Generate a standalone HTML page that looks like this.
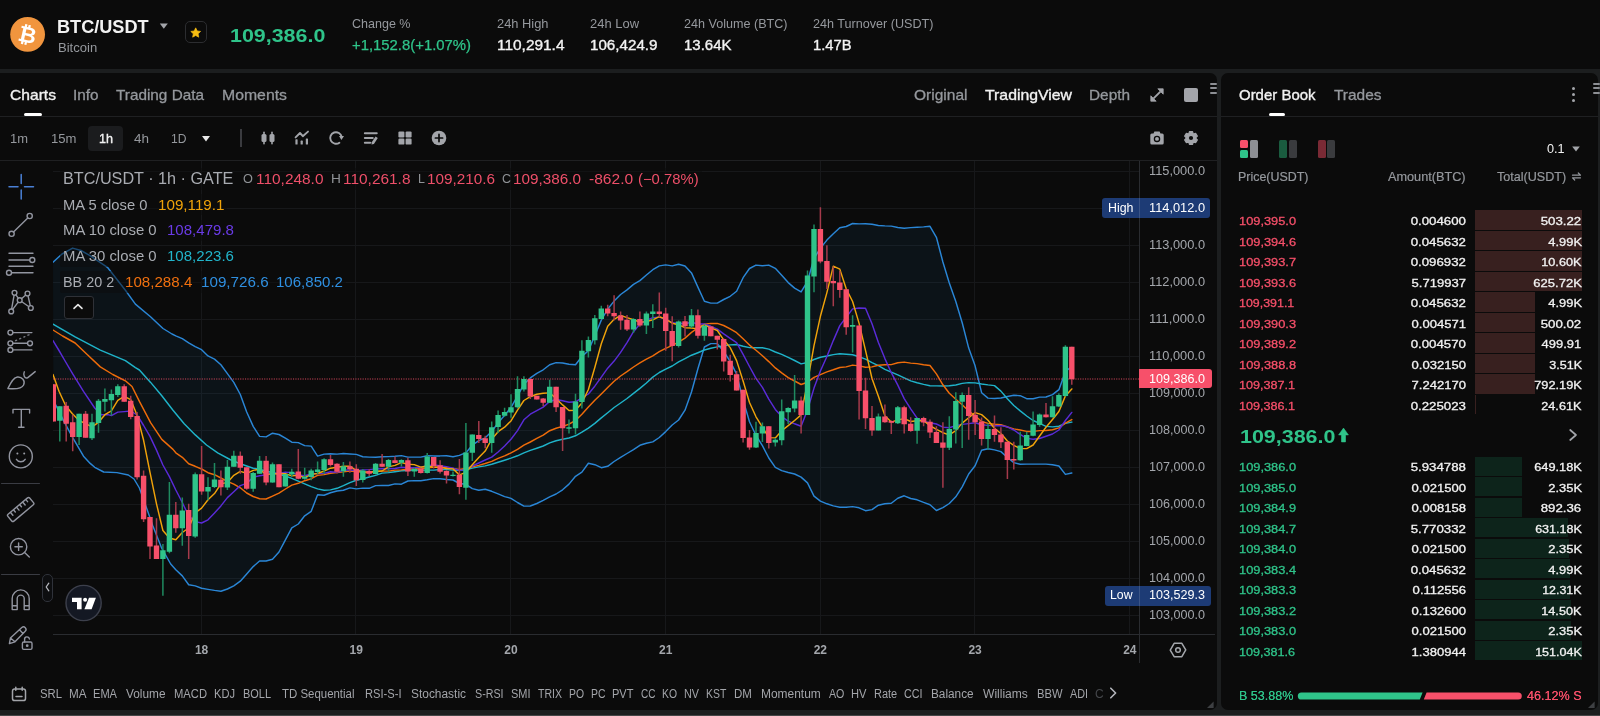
<!DOCTYPE html>
<html><head><meta charset="utf-8"><title>BTC/USDT</title>
<style>
html,body{margin:0;padding:0;background:#1c1e1f;}
body{width:1600px;height:716px;overflow:hidden;font-family:"Liberation Sans",sans-serif;}
#root{will-change:transform;position:relative;width:1600px;height:716px;overflow:hidden;background:#1c1e1f;}
.abs{position:absolute;}
.t{position:absolute;white-space:nowrap;}
.panel{position:absolute;background:#0b0b0b;}
</style></head><body><div id="root">

<div class="panel" style="left:0;top:0;width:1600px;height:69px"></div>
<div class="panel" style="left:0;top:73px;width:1217px;height:637px;border-radius:0 7px 7px 0"></div>
<div class="panel" style="left:1221px;top:73px;width:377px;height:637px;border-radius:7px"></div>
<div class="abs" style="left:0;top:715px;width:1600px;height:1px;background:#454647"></div>
<svg class="abs" style="left:0;top:0" width="1600" height="716" viewBox="0 0 1600 716">
<defs><clipPath id="cc"><rect x="53" y="161" width="1087" height="473"/></clipPath></defs>
<path d="M53 171.5H1140 M53 208.5H1140 M53 245.5H1140 M53 282.5H1140 M53 319.5H1140 M53 356.5H1140 M53 393.5H1140 M53 430.5H1140 M53 467.5H1140 M53 504.5H1140 M53 541.5H1140 M53 578.5H1140 M53 615.5H1140 M201.5 161V634 M355.5 161V634 M510.5 161V634 M665.5 161V634 M820.5 161V634 M974.5 161V634 M1129.5 161V634" stroke="#17181a" stroke-width="1" fill="none"/>
<g clip-path="url(#cc)">
<path d="M53.0 262.2 L62.0 254.0 L72.6 248.1 L81.0 250.5 L90.0 255.6 L107.8 267.7 L125.4 290.3 L135.4 304.1 L150.5 316.7 L163.0 328.5 L172.0 334.0 L175.8 335.9 L182.3 338.7 L188.7 342.8 L195.2 346.7 L201.6 349.7 L208.0 355.9 L214.5 359.1 L220.9 364.8 L227.4 373.6 L233.8 382.4 L240.3 394.5 L246.7 412.0 L253.2 426.4 L259.6 436.4 L266.1 436.9 L272.5 433.2 L279.0 434.5 L285.4 438.1 L291.8 442.2 L298.3 442.6 L304.7 445.6 L311.2 446.1 L317.6 456.1 L324.1 454.1 L330.5 453.8 L337.0 454.1 L343.4 453.5 L349.9 454.0 L356.3 454.4 L362.8 456.7 L369.2 457.1 L375.6 457.3 L382.1 456.8 L388.5 456.6 L395.0 456.3 L401.4 455.6 L407.9 457.1 L414.3 457.1 L420.8 457.1 L427.2 455.7 L433.7 455.9 L440.1 455.9 L446.5 455.7 L453.0 456.7 L459.4 455.4 L465.9 452.7 L472.3 445.2 L478.8 440.6 L485.2 437.8 L491.7 431.5 L498.1 422.9 L504.6 415.2 L511.0 407.4 L517.5 396.2 L523.9 384.2 L530.3 377.9 L536.8 373.3 L543.2 369.8 L549.7 364.7 L556.1 362.6 L562.6 363.0 L569.0 364.3 L575.5 364.7 L581.9 356.5 L588.4 350.6 L594.8 335.8 L601.3 320.1 L607.7 309.0 L614.1 301.1 L620.6 294.5 L627.0 289.9 L633.5 284.4 L639.9 280.6 L646.4 275.0 L652.8 269.7 L659.3 265.9 L665.7 264.9 L672.2 265.9 L678.6 264.3 L685.0 266.0 L691.5 272.9 L697.9 287.1 L704.4 301.2 L710.8 303.1 L717.3 303.1 L723.7 299.5 L730.2 296.3 L736.6 291.3 L743.1 277.7 L749.5 268.5 L756.0 265.1 L762.4 265.7 L768.8 265.1 L775.3 268.3 L781.7 275.2 L788.2 282.6 L794.6 288.1 L801.1 291.9 L807.5 281.5 L814.0 258.5 L820.4 248.2 L826.9 240.1 L833.3 233.8 L839.8 227.7 L846.2 226.5 L852.6 223.5 L859.1 223.9 L865.5 223.8 L872.0 224.2 L878.4 225.5 L884.9 225.9 L891.3 226.1 L897.8 227.5 L904.2 228.3 L910.7 227.6 L917.1 227.3 L923.6 226.9 L930.0 226.3 L936.4 237.3 L942.9 262.0 L949.3 283.0 L955.8 301.5 L962.2 322.7 L968.7 348.1 L975.1 365.8 L981.6 392.7 L988.0 398.1 L994.5 398.5 L1000.9 398.0 L1007.4 396.5 L1013.8 395.2 L1020.2 395.7 L1026.7 398.7 L1033.1 398.7 L1039.6 397.1 L1046.0 397.0 L1052.5 394.6 L1058.9 389.7 L1065.4 371.7 L1071.8 366.3 L1071.8 473.0 L1065.4 474.4 L1058.9 466.0 L1052.5 464.8 L1046.0 464.1 L1039.6 464.1 L1033.1 464.1 L1026.7 464.1 L1020.2 464.3 L1013.8 462.6 L1007.4 457.5 L1000.9 451.6 L994.5 449.9 L988.0 448.7 L981.6 450.3 L975.1 465.8 L968.7 474.0 L962.2 486.8 L955.8 496.8 L949.3 503.5 L942.9 507.6 L936.4 510.5 L930.0 504.7 L923.6 502.4 L917.1 499.8 L910.7 498.5 L904.2 495.8 L897.8 498.2 L891.3 503.2 L884.9 503.7 L878.4 505.2 L872.0 509.6 L865.5 510.7 L859.1 507.8 L852.6 506.6 L846.2 507.3 L839.8 507.3 L833.3 505.9 L826.9 503.8 L820.4 501.1 L814.0 496.1 L807.5 482.9 L801.1 477.1 L794.6 474.0 L788.2 472.5 L781.7 470.6 L775.3 467.4 L768.8 458.0 L762.4 445.7 L756.0 435.5 L749.5 421.7 L743.1 399.9 L736.6 374.1 L730.2 361.4 L723.7 351.5 L717.3 343.6 L710.8 343.6 L704.4 347.0 L697.9 368.7 L691.5 392.0 L685.0 410.2 L678.6 420.0 L672.2 425.0 L665.7 431.6 L659.3 437.5 L652.8 441.9 L646.4 443.3 L639.9 445.3 L633.5 449.7 L627.0 453.5 L620.6 457.4 L614.1 461.5 L607.7 466.3 L601.3 467.7 L594.8 464.7 L588.4 463.3 L581.9 472.1 L575.5 476.3 L569.0 484.1 L562.6 489.8 L556.1 494.0 L549.7 496.8 L543.2 500.3 L536.8 503.5 L530.3 506.0 L523.9 506.1 L517.5 502.5 L511.0 498.4 L504.6 496.6 L498.1 493.9 L491.7 491.3 L485.2 489.2 L478.8 490.3 L472.3 488.6 L465.9 484.3 L459.4 483.5 L453.0 480.0 L446.5 479.5 L440.1 478.7 L433.7 478.6 L427.2 479.8 L420.8 480.7 L414.3 480.6 L407.9 481.0 L401.4 484.2 L395.0 483.9 L388.5 485.5 L382.1 485.4 L375.6 485.6 L369.2 488.3 L362.8 488.1 L356.3 488.9 L349.9 487.9 L343.4 490.2 L337.0 491.0 L330.5 492.8 L324.1 495.2 L317.6 494.7 L311.2 511.3 L304.7 515.8 L298.3 524.0 L291.8 527.9 L285.4 539.9 L279.0 552.0 L272.5 559.3 L266.1 561.0 L259.6 561.0 L253.2 566.6 L246.7 573.9 L240.3 581.2 L233.8 585.8 L227.4 589.0 L220.9 591.2 L214.5 590.4 L208.0 589.4 L201.6 588.3 L195.2 585.9 L188.7 584.7 L182.3 575.9 L175.8 569.8 L170.7 564.0 L161.8 548.4 L152.9 526.0 L146.2 507.0 L139.4 488.0 L134.0 479.0 L128.3 475.0 L117.0 472.6 L103.7 472.0 L94.7 467.3 L90.2 463.4 L83.5 456.2 L72.4 437.1 L63.4 420.4 L53.4 400.3Z" fill="#2196f3" fill-opacity="0.06" stroke="none"/>
<path d="M53.0 262.2 L62.0 254.0 L72.6 248.1 L81.0 250.5 L90.0 255.6 L107.8 267.7 L125.4 290.3 L135.4 304.1 L150.5 316.7 L163.0 328.5 L172.0 334.0 L175.8 335.9 L182.3 338.7 L188.7 342.8 L195.2 346.7 L201.6 349.7 L208.0 355.9 L214.5 359.1 L220.9 364.8 L227.4 373.6 L233.8 382.4 L240.3 394.5 L246.7 412.0 L253.2 426.4 L259.6 436.4 L266.1 436.9 L272.5 433.2 L279.0 434.5 L285.4 438.1 L291.8 442.2 L298.3 442.6 L304.7 445.6 L311.2 446.1 L317.6 456.1 L324.1 454.1 L330.5 453.8 L337.0 454.1 L343.4 453.5 L349.9 454.0 L356.3 454.4 L362.8 456.7 L369.2 457.1 L375.6 457.3 L382.1 456.8 L388.5 456.6 L395.0 456.3 L401.4 455.6 L407.9 457.1 L414.3 457.1 L420.8 457.1 L427.2 455.7 L433.7 455.9 L440.1 455.9 L446.5 455.7 L453.0 456.7 L459.4 455.4 L465.9 452.7 L472.3 445.2 L478.8 440.6 L485.2 437.8 L491.7 431.5 L498.1 422.9 L504.6 415.2 L511.0 407.4 L517.5 396.2 L523.9 384.2 L530.3 377.9 L536.8 373.3 L543.2 369.8 L549.7 364.7 L556.1 362.6 L562.6 363.0 L569.0 364.3 L575.5 364.7 L581.9 356.5 L588.4 350.6 L594.8 335.8 L601.3 320.1 L607.7 309.0 L614.1 301.1 L620.6 294.5 L627.0 289.9 L633.5 284.4 L639.9 280.6 L646.4 275.0 L652.8 269.7 L659.3 265.9 L665.7 264.9 L672.2 265.9 L678.6 264.3 L685.0 266.0 L691.5 272.9 L697.9 287.1 L704.4 301.2 L710.8 303.1 L717.3 303.1 L723.7 299.5 L730.2 296.3 L736.6 291.3 L743.1 277.7 L749.5 268.5 L756.0 265.1 L762.4 265.7 L768.8 265.1 L775.3 268.3 L781.7 275.2 L788.2 282.6 L794.6 288.1 L801.1 291.9 L807.5 281.5 L814.0 258.5 L820.4 248.2 L826.9 240.1 L833.3 233.8 L839.8 227.7 L846.2 226.5 L852.6 223.5 L859.1 223.9 L865.5 223.8 L872.0 224.2 L878.4 225.5 L884.9 225.9 L891.3 226.1 L897.8 227.5 L904.2 228.3 L910.7 227.6 L917.1 227.3 L923.6 226.9 L930.0 226.3 L936.4 237.3 L942.9 262.0 L949.3 283.0 L955.8 301.5 L962.2 322.7 L968.7 348.1 L975.1 365.8 L981.6 392.7 L988.0 398.1 L994.5 398.5 L1000.9 398.0 L1007.4 396.5 L1013.8 395.2 L1020.2 395.7 L1026.7 398.7 L1033.1 398.7 L1039.6 397.1 L1046.0 397.0 L1052.5 394.6 L1058.9 389.7 L1065.4 371.7 L1071.8 366.3" fill="none" stroke="#2a86d6" stroke-width="1.45" stroke-linejoin="round" stroke-linecap="round"/>
<path d="M53.4 400.3 L63.4 420.4 L72.4 437.1 L83.5 456.2 L90.2 463.4 L94.7 467.3 L103.7 472.0 L117.0 472.6 L128.3 475.0 L134.0 479.0 L139.4 488.0 L146.2 507.0 L152.9 526.0 L161.8 548.4 L170.7 564.0 L175.8 569.8 L182.3 575.9 L188.7 584.7 L195.2 585.9 L201.6 588.3 L208.0 589.4 L214.5 590.4 L220.9 591.2 L227.4 589.0 L233.8 585.8 L240.3 581.2 L246.7 573.9 L253.2 566.6 L259.6 561.0 L266.1 561.0 L272.5 559.3 L279.0 552.0 L285.4 539.9 L291.8 527.9 L298.3 524.0 L304.7 515.8 L311.2 511.3 L317.6 494.7 L324.1 495.2 L330.5 492.8 L337.0 491.0 L343.4 490.2 L349.9 487.9 L356.3 488.9 L362.8 488.1 L369.2 488.3 L375.6 485.6 L382.1 485.4 L388.5 485.5 L395.0 483.9 L401.4 484.2 L407.9 481.0 L414.3 480.6 L420.8 480.7 L427.2 479.8 L433.7 478.6 L440.1 478.7 L446.5 479.5 L453.0 480.0 L459.4 483.5 L465.9 484.3 L472.3 488.6 L478.8 490.3 L485.2 489.2 L491.7 491.3 L498.1 493.9 L504.6 496.6 L511.0 498.4 L517.5 502.5 L523.9 506.1 L530.3 506.0 L536.8 503.5 L543.2 500.3 L549.7 496.8 L556.1 494.0 L562.6 489.8 L569.0 484.1 L575.5 476.3 L581.9 472.1 L588.4 463.3 L594.8 464.7 L601.3 467.7 L607.7 466.3 L614.1 461.5 L620.6 457.4 L627.0 453.5 L633.5 449.7 L639.9 445.3 L646.4 443.3 L652.8 441.9 L659.3 437.5 L665.7 431.6 L672.2 425.0 L678.6 420.0 L685.0 410.2 L691.5 392.0 L697.9 368.7 L704.4 347.0 L710.8 343.6 L717.3 343.6 L723.7 351.5 L730.2 361.4 L736.6 374.1 L743.1 399.9 L749.5 421.7 L756.0 435.5 L762.4 445.7 L768.8 458.0 L775.3 467.4 L781.7 470.6 L788.2 472.5 L794.6 474.0 L801.1 477.1 L807.5 482.9 L814.0 496.1 L820.4 501.1 L826.9 503.8 L833.3 505.9 L839.8 507.3 L846.2 507.3 L852.6 506.6 L859.1 507.8 L865.5 510.7 L872.0 509.6 L878.4 505.2 L884.9 503.7 L891.3 503.2 L897.8 498.2 L904.2 495.8 L910.7 498.5 L917.1 499.8 L923.6 502.4 L930.0 504.7 L936.4 510.5 L942.9 507.6 L949.3 503.5 L955.8 496.8 L962.2 486.8 L968.7 474.0 L975.1 465.8 L981.6 450.3 L988.0 448.7 L994.5 449.9 L1000.9 451.6 L1007.4 457.5 L1013.8 462.6 L1020.2 464.3 L1026.7 464.1 L1033.1 464.1 L1039.6 464.1 L1046.0 464.1 L1052.5 464.8 L1058.9 466.0 L1065.4 474.4 L1071.8 473.0" fill="none" stroke="#2a86d6" stroke-width="1.45" stroke-linejoin="round" stroke-linecap="round"/>
<path d="M53.0 324.2 L75.1 336.8 L100.3 350.1 L125.4 360.7 L135.4 367.7 L139.4 370.0 L150.6 382.4 L161.8 395.8 L173.0 410.3 L184.2 423.7 L195.3 434.9 L206.5 445.0 L217.7 452.8 L230.0 459.5 L236.0 462.0 L240.3 463.8 L246.7 466.0 L253.2 468.2 L259.6 469.5 L266.1 471.0 L272.5 472.7 L279.0 474.3 L285.4 476.0 L291.8 478.4 L298.3 481.1 L304.7 483.8 L311.2 486.6 L317.6 488.9 L324.1 490.3 L330.5 489.9 L337.0 488.3 L343.4 485.6 L349.9 482.6 L356.3 480.3 L362.8 478.8 L369.2 477.0 L375.6 475.4 L382.1 473.1 L388.5 472.6 L395.0 471.7 L401.4 470.8 L407.9 470.5 L414.3 469.9 L420.8 470.1 L427.2 470.1 L433.7 470.1 L440.1 469.5 L446.5 469.6 L453.0 470.1 L459.4 470.2 L465.9 469.8 L472.3 468.1 L478.8 466.9 L485.2 465.9 L491.7 464.2 L498.1 462.2 L504.6 460.2 L511.0 458.1 L517.5 455.8 L523.9 452.9 L530.3 450.4 L536.8 448.2 L543.2 446.0 L549.7 442.9 L556.1 440.7 L562.6 439.2 L569.0 438.0 L575.5 435.8 L581.9 432.2 L588.4 428.1 L594.8 423.4 L601.3 417.9 L607.7 412.8 L614.1 407.5 L620.6 403.0 L627.0 398.5 L633.5 393.4 L639.9 388.4 L646.4 383.0 L652.8 377.1 L659.3 372.5 L665.7 369.1 L672.2 366.0 L678.6 361.9 L685.0 358.6 L691.5 355.2 L697.9 352.7 L704.4 350.0 L710.8 348.2 L717.3 346.9 L723.7 345.7 L730.2 344.9 L736.6 344.5 L743.1 346.2 L749.5 347.6 L756.0 347.7 L762.4 347.7 L768.8 349.1 L775.3 352.0 L781.7 354.4 L788.2 357.4 L794.6 360.5 L801.1 363.9 L807.5 362.5 L814.0 359.5 L820.4 357.2 L826.9 356.0 L833.3 354.6 L839.8 353.8 L846.2 354.3 L852.6 354.7 L859.1 356.7 L865.5 359.1 L872.0 362.7 L878.4 365.7 L884.9 369.3 L891.3 372.2 L897.8 374.9 L904.2 377.9 L910.7 380.9 L917.1 382.8 L923.6 384.4 L930.0 385.8 L936.4 385.9 L942.9 385.9 L949.3 385.8 L955.8 385.0 L962.2 383.4 L968.7 382.6 L975.1 382.9 L981.6 384.0 L988.0 384.9 L994.5 385.6 L1000.9 391.1 L1007.4 398.8 L1013.8 405.5 L1020.2 410.9 L1026.7 416.0 L1033.1 420.5 L1039.6 423.4 L1046.0 426.4 L1052.5 426.9 L1058.9 426.2 L1065.4 423.4 L1071.8 422.1" fill="none" stroke="#1fb3c9" stroke-width="1.45" stroke-linejoin="round" stroke-linecap="round"/>
<path d="M53.0 330.0 L62.6 336.0 L75.1 343.0 L87.7 355.1 L100.3 366.9 L112.8 374.5 L125.4 380.8 L132.0 386.5 L139.4 401.4 L150.6 422.6 L161.8 439.4 L173.0 449.4 L175.8 452.8 L182.3 457.3 L188.7 463.8 L195.2 466.3 L201.6 469.0 L208.0 472.7 L214.5 474.7 L220.9 478.0 L227.4 481.3 L233.8 484.1 L240.3 487.8 L246.7 493.0 L253.2 496.5 L259.6 498.7 L266.1 499.0 L272.5 496.2 L279.0 493.2 L285.4 489.0 L291.8 485.1 L298.3 483.3 L304.7 480.7 L311.2 478.7 L317.6 475.4 L324.1 474.6 L330.5 473.3 L337.0 472.5 L343.4 471.9 L349.9 471.0 L356.3 471.6 L362.8 472.4 L369.2 472.7 L375.6 471.4 L382.1 471.1 L388.5 471.1 L395.0 470.1 L401.4 469.9 L407.9 469.1 L414.3 468.8 L420.8 468.9 L427.2 467.8 L433.7 467.2 L440.1 467.3 L446.5 467.6 L453.0 468.4 L459.4 469.5 L465.9 468.5 L472.3 466.9 L478.8 465.4 L485.2 463.5 L491.7 461.4 L498.1 458.4 L504.6 455.9 L511.0 452.9 L517.5 449.3 L523.9 445.1 L530.3 442.0 L536.8 438.4 L543.2 435.1 L549.7 430.7 L556.1 428.3 L562.6 426.4 L569.0 424.2 L575.5 420.5 L581.9 414.3 L588.4 406.9 L594.8 400.2 L601.3 393.9 L607.7 387.6 L614.1 381.3 L620.6 376.0 L627.0 371.7 L633.5 367.0 L639.9 362.9 L646.4 359.2 L652.8 355.8 L659.3 351.7 L665.7 348.3 L672.2 345.4 L678.6 342.2 L685.0 338.1 L691.5 332.4 L697.9 327.9 L704.4 324.1 L710.8 323.4 L717.3 323.4 L723.7 325.5 L730.2 328.8 L736.6 332.7 L743.1 338.8 L749.5 345.1 L756.0 350.3 L762.4 355.7 L768.8 361.6 L775.3 367.9 L781.7 372.9 L788.2 377.6 L794.6 381.0 L801.1 384.5 L807.5 382.2 L814.0 377.3 L820.4 374.6 L826.9 371.9 L833.3 369.8 L839.8 367.5 L846.2 366.9 L852.6 365.1 L859.1 365.9 L865.5 367.3 L872.0 366.9 L878.4 365.3 L884.9 364.8 L891.3 364.6 L897.8 362.8 L904.2 362.1 L910.7 363.1 L917.1 363.6 L923.6 364.7 L930.0 365.5 L936.4 373.9 L942.9 384.8 L949.3 393.2 L955.8 399.2 L962.2 404.8 L968.7 411.1 L975.1 415.8 L981.6 421.5 L988.0 423.4 L994.5 424.2 L1000.9 424.8 L1007.4 427.0 L1013.8 428.9 L1020.2 430.0 L1026.7 431.4 L1033.1 431.4 L1039.6 430.6 L1046.0 430.5 L1052.5 429.7 L1058.9 427.9 L1065.4 423.1 L1071.8 419.6" fill="none" stroke="#ef6c0a" stroke-width="1.45" stroke-linejoin="round" stroke-linecap="round"/>
<path d="M53.0 340.6 L59.0 350.5 L64.5 360.0 L72.4 373.4 L83.5 391.3 L94.7 408.0 L101.4 414.8 L108.0 414.6 L111.4 415.6 L117.8 412.1 L124.2 411.6 L130.7 411.0 L137.1 415.0 L143.6 425.5 L150.0 436.4 L156.5 450.1 L162.9 465.0 L169.4 476.6 L175.8 490.0 L182.3 502.5 L188.7 515.9 L195.2 521.6 L201.6 523.0 L208.0 519.8 L214.5 513.1 L220.9 505.9 L227.4 497.6 L233.8 491.7 L240.3 485.6 L246.7 483.4 L253.2 477.1 L259.6 475.8 L266.1 474.9 L272.5 472.6 L279.0 473.4 L285.4 472.1 L291.8 472.6 L298.3 474.9 L304.7 475.8 L311.2 473.9 L317.6 473.6 L324.1 473.4 L330.5 471.7 L337.0 472.4 L343.4 470.3 L349.9 469.9 L356.3 470.7 L362.8 469.9 L369.2 469.6 L375.6 468.9 L382.1 468.6 L388.5 468.7 L395.0 468.5 L401.4 467.3 L407.9 467.8 L414.3 467.8 L420.8 467.1 L427.2 465.7 L433.7 464.9 L440.1 465.7 L446.5 466.6 L453.0 468.1 L459.4 470.4 L465.9 469.7 L472.3 466.0 L478.8 463.0 L485.2 460.0 L491.7 457.1 L498.1 452.0 L504.6 446.0 L511.0 439.2 L517.5 430.6 L523.9 419.8 L530.3 414.2 L536.8 410.7 L543.2 407.1 L549.7 401.5 L556.1 399.5 L562.6 400.8 L569.0 402.3 L575.5 401.8 L581.9 397.9 L588.4 394.0 L594.8 386.2 L601.3 377.1 L607.7 368.2 L614.1 361.1 L620.6 352.4 L627.0 342.6 L633.5 331.7 L639.9 324.1 L646.4 320.4 L652.8 317.6 L659.3 317.1 L665.7 319.4 L672.2 322.6 L678.6 323.2 L685.0 323.8 L691.5 322.3 L697.9 324.0 L704.4 324.0 L710.8 326.3 L717.3 329.1 L723.7 333.9 L730.2 338.3 L736.6 342.7 L743.1 354.4 L749.5 366.5 L756.0 378.3 L762.4 387.4 L768.8 399.1 L775.3 409.4 L781.7 416.6 L788.2 421.2 L794.6 423.8 L801.1 426.2 L807.5 410.0 L814.0 388.1 L820.4 371.0 L826.9 356.5 L833.3 340.6 L839.8 325.6 L846.2 317.2 L852.6 308.9 L859.1 308.0 L865.5 308.3 L872.0 323.8 L878.4 342.6 L884.9 358.6 L891.3 372.7 L897.8 385.1 L904.2 398.6 L910.7 408.9 L917.1 418.2 L923.6 421.4 L930.0 422.8 L936.4 424.0 L942.9 427.1 L949.3 427.8 L955.8 425.6 L962.2 424.4 L968.7 423.6 L975.1 422.7 L981.6 424.8 L988.0 425.4 L994.5 425.7 L1000.9 425.6 L1007.4 426.8 L1013.8 430.0 L1020.2 434.4 L1026.7 438.4 L1033.1 439.3 L1039.6 438.5 L1046.0 436.3 L1052.5 434.0 L1058.9 430.0 L1065.4 420.5 L1071.8 412.4" fill="none" stroke="#5a2bd8" stroke-width="1.45" stroke-linejoin="round" stroke-linecap="round"/>
<path d="M53.0 374.5 L59.0 391.3 L65.7 405.8 L72.4 413.7 L79.1 420.5 L85.6 423.7 L92.0 426.9 L98.5 422.3 L104.9 414.7 L111.4 410.8 L117.8 400.4 L124.2 396.4 L130.7 399.6 L137.1 415.3 L143.6 440.3 L150.0 472.4 L156.5 503.8 L162.9 530.5 L169.4 538.0 L175.8 539.8 L182.3 532.5 L188.7 528.0 L195.2 512.8 L201.6 508.1 L208.0 499.8 L214.5 493.6 L220.9 483.9 L227.4 482.4 L233.8 475.3 L240.3 471.4 L246.7 473.3 L253.2 470.4 L259.6 469.2 L266.1 474.6 L272.5 473.9 L279.0 473.5 L285.4 473.7 L291.8 475.9 L298.3 475.2 L304.7 477.7 L311.2 474.4 L317.6 473.5 L324.1 471.0 L330.5 468.2 L337.0 467.2 L343.4 466.3 L349.9 466.2 L356.3 470.5 L362.8 471.6 L369.2 472.0 L375.6 471.5 L382.1 471.0 L388.5 466.9 L395.0 465.4 L401.4 462.6 L407.9 464.2 L414.3 464.6 L420.8 467.2 L427.2 466.0 L433.7 467.2 L440.1 467.2 L446.5 468.5 L453.0 468.9 L459.4 474.9 L465.9 472.3 L472.3 464.8 L478.8 457.5 L485.2 451.1 L491.7 439.2 L498.1 431.7 L504.6 427.2 L511.0 420.9 L517.5 410.1 L523.9 400.5 L530.3 396.7 L536.8 394.2 L543.2 393.3 L549.7 392.9 L556.1 398.5 L562.6 404.9 L569.0 410.5 L575.5 410.2 L581.9 403.0 L588.4 389.5 L594.8 367.5 L601.3 343.8 L607.7 326.2 L614.1 319.3 L620.6 315.4 L627.0 317.6 L633.5 319.7 L639.9 322.1 L646.4 321.6 L652.8 319.8 L659.3 316.7 L665.7 319.1 L672.2 323.2 L678.6 324.8 L685.0 327.7 L691.5 328.0 L697.9 328.9 L704.4 324.9 L710.8 327.8 L717.3 330.5 L723.7 339.8 L730.2 347.6 L736.6 360.6 L743.1 381.0 L749.5 402.5 L756.0 416.8 L762.4 427.1 L768.8 437.6 L775.3 437.9 L781.7 430.7 L788.2 425.6 L794.6 420.5 L801.1 414.9 L807.5 382.1 L814.0 345.6 L820.4 316.3 L826.9 292.6 L833.3 266.2 L839.8 269.1 L846.2 288.8 L852.6 301.5 L859.1 323.4 L865.5 350.4 L872.0 378.5 L878.4 396.3 L884.9 415.8 L891.3 422.1 L897.8 419.9 L904.2 418.6 L910.7 421.5 L917.1 420.7 L923.6 420.6 L930.0 425.6 L936.4 429.4 L942.9 432.7 L949.3 434.9 L955.8 430.6 L962.2 423.1 L968.7 417.7 L975.1 412.6 L981.6 414.6 L988.0 420.2 L994.5 428.2 L1000.9 433.5 L1007.4 441.0 L1013.8 445.3 L1020.2 448.6 L1026.7 448.6 L1033.1 445.0 L1039.6 436.0 L1046.0 427.3 L1052.5 419.5 L1058.9 411.5 L1065.4 395.9 L1071.8 388.9" fill="none" stroke="#f0a30a" stroke-width="1.45" stroke-linejoin="round" stroke-linecap="round"/>
<path d="M53 379H1140" stroke="#f7506a" stroke-width="1" stroke-dasharray="1.1 1.3" fill="none" opacity="0.85"/>
<path d="M59.8 406.3V441.6 M79.1 413.7V445.0 M92.0 413.7V440.0 M98.5 399.1V432.7 M104.9 388.6V411.4 M111.4 389.5V415.5 M117.8 384.2V396.9 M162.9 543.9V595.8 M169.4 482.0V553.3 M182.3 497.4V545.7 M195.2 472.4V537.7 M208.0 477.3V500.3 M214.5 463.0V488.0 M227.4 460.0V490.0 M233.8 450.7V466.7 M253.2 472.1V491.8 M259.6 456.1V473.7 M272.5 462.4V482.8 M285.4 474.0V486.6 M291.8 468.7V476.8 M304.7 467.7V479.7 M311.2 468.7V480.3 M317.6 461.4V474.0 M324.1 458.3V474.0 M343.4 462.0V476.8 M362.8 469.0V482.5 M375.6 462.9V474.6 M388.5 458.9V471.7 M401.4 459.2V466.5 M414.3 467.5V476.8 M427.2 453.0V473.5 M453.0 471.6V476.6 M465.9 423.1V499.7 M472.3 434.5V460.9 M491.7 421.6V452.7 M498.1 410.6V433.0 M504.6 407.7V416.8 M511.0 394.3V417.8 M517.5 376.3V408.4 M523.9 376.3V391.6 M549.7 379.7V403.1 M569.0 419.5V433.5 M575.5 393.7V434.6 M581.9 340.3V408.4 M588.4 336.5V357.5 M594.8 315.1V344.5 M601.3 305.7V319.3 M633.5 318.3V332.9 M646.4 311.4V334.0 M652.8 304.2V328.1 M678.6 320.4V347.6 M691.5 308.9V327.9 M704.4 324.6V340.7 M756.0 421.8V447.9 M762.4 422.5V441.9 M775.3 438.1V446.4 M781.7 399.4V445.3 M788.2 407.3V424.0 M794.6 374.9V412.2 M807.5 270.5V415.1 M814.0 224.5V292.2 M852.6 315.2V352.5 M878.4 413.4V430.6 M897.8 406.0V423.9 M917.1 418.0V443.8 M949.3 416.3V449.9 M955.8 392.2V443.6 M962.2 392.4V448.0 M988.0 423.6V449.5 M1020.2 431.8V460.8 M1026.7 431.8V446.3 M1033.1 411.4V436.3 M1039.6 413.6V426.7 M1052.5 396.2V417.6 M1058.9 393.3V407.1 M1065.4 345.2V396.4" stroke="#1f8a60" stroke-width="1.5" fill="none"/>
<path d="M53.3 384.2V421.5 M66.2 402.0V441.6 M72.7 414.8V451.2 M85.6 411.0V437.8 M124.2 384.2V401.8 M130.7 395.8V419.3 M137.1 411.9V479.5 M143.6 470.6V522.0 M150.0 517.0V559.0 M156.5 518.2V558.9 M175.8 501.9V532.7 M188.7 503.7V559.1 M201.6 446.1V494.7 M220.9 470.6V495.4 M240.3 451.6V473.7 M246.7 467.3V489.7 M266.1 456.1V485.3 M279.0 464.2V487.2 M298.3 449.1V479.3 M330.5 455.1V466.5 M337.0 463.3V473.4 M349.9 461.4V472.7 M356.3 464.2V485.9 M369.2 469.2V475.9 M382.1 454.1V467.1 M395.0 456.6V463.3 M407.9 457.7V475.9 M420.8 467.8V473.5 M433.7 457.1V468.5 M440.1 460.3V473.5 M446.5 470.3V483.5 M459.4 459.0V494.2 M478.8 421.1V442.9 M485.2 435.8V448.3 M530.3 379.0V398.9 M536.8 395.8V399.4 M543.2 397.9V406.3 M556.1 386.8V411.9 M562.6 406.9V450.9 M607.7 304.7V316.2 M614.1 295.2V320.4 M620.6 311.4V329.8 M627.0 315.1V330.9 M639.9 311.4V326.7 M659.3 292.5V317.2 M665.7 307.8V350.8 M672.2 316.2V361.2 M685.0 315.9V336.5 M697.9 309.4V338.4 M710.8 326.4V336.2 M717.3 335.8V349.6 M723.7 338.4V371.5 M730.2 354.7V381.6 M736.6 371.1V390.5 M743.1 389.8V442.6 M749.5 430.1V449.7 M768.8 426.3V448.6 M801.1 396.5V433.6 M820.4 207.3V263.2 M826.9 245.3V288.9 M833.3 266.5V306.3 M839.8 271.0V297.8 M846.2 289.3V334.7 M859.1 325.6V419.4 M865.5 377.7V429.0 M872.0 406.0V435.8 M884.9 404.5V422.8 M891.3 420.6V434.0 M904.2 405.7V433.5 M910.7 417.2V431.7 M923.6 416.7V426.2 M930.0 419.4V438.0 M936.4 426.3V443.0 M942.9 422.3V487.7 M968.7 387.2V439.8 M975.1 399.9V435.0 M981.6 417.4V445.6 M994.5 415.4V441.7 M1000.9 427.2V448.1 M1007.4 441.7V479.0 M1013.8 441.7V469.5 M1046.0 403.1V417.6 M1071.8 346.8V384.8" stroke="#a53a4b" stroke-width="1.5" fill="none"/>
<path d="M57.1 406.3h5.4v14.5h-5.4z M76.4 413.7h5.4v23.4h-5.4z M89.3 422.2h5.4v16.1h-5.4z M95.8 400.7h5.4v22.3h-5.4z M102.2 399.1h5.4v2.7h-5.4z M108.7 394.0h5.4v6.2h-5.4z M115.1 386.2h5.4v8.9h-5.4z M160.2 550.2h5.4v8.7h-5.4z M166.7 514.8h5.4v36.9h-5.4z M179.6 510.4h5.4v17.9h-5.4z M192.5 474.2h5.4v62.3h-5.4z M205.3 486.9h5.4v4.5h-5.4z M211.8 479.5h5.4v7.4h-5.4z M224.7 466.8h5.4v20.7h-5.4z M231.1 455.8h5.4v10.9h-5.4z M250.5 473.0h5.4v15.8h-5.4z M256.9 460.8h5.4v12.9h-5.4z M269.8 464.2h5.4v18.3h-5.4z M282.7 474.0h5.4v12.6h-5.4z M289.1 471.7h5.4v2.9h-5.4z M302.0 476.8h5.4v2.0h-5.4z M308.5 470.5h5.4v6.6h-5.4z M314.9 469.6h5.4v2.5h-5.4z M321.4 459.2h5.4v10.8h-5.4z M340.7 466.2h5.4v5.0h-5.4z M360.1 470.5h5.4v9.5h-5.4z M372.9 463.7h5.4v10.3h-5.4z M385.8 459.9h5.4v6.8h-5.4z M398.7 459.9h5.4v2.8h-5.4z M411.6 469.0h5.4v2.5h-5.4z M424.5 456.5h5.4v16.4h-5.4z M450.3 474.7h5.4v1.3h-5.4z M463.2 452.5h5.4v35.2h-5.4z M469.6 434.5h5.4v18.2h-5.4z M489.0 427.3h5.4v15.6h-5.4z M495.4 415.0h5.4v12.0h-5.4z M501.9 412.1h5.4v3.6h-5.4z M508.3 407.3h5.4v5.3h-5.4z M514.8 388.9h5.4v18.4h-5.4z M521.2 379.0h5.4v10.5h-5.4z M547.0 386.8h5.4v15.9h-5.4z M566.3 427.2h5.4v1.5h-5.4z M572.8 401.5h5.4v26.8h-5.4z M579.2 350.8h5.4v51.3h-5.4z M585.7 339.9h5.4v11.3h-5.4z M592.1 318.3h5.4v22.0h-5.4z M598.6 308.4h5.4v10.5h-5.4z M630.8 318.9h5.4v10.5h-5.4z M643.7 313.5h5.4v12.1h-5.4z M650.1 311.4h5.4v2.7h-5.4z M675.9 321.4h5.4v24.7h-5.4z M688.8 315.2h5.4v11.2h-5.4z M701.7 325.7h5.4v10.1h-5.4z M753.3 433.0h5.4v14.5h-5.4z M759.7 426.3h5.4v7.3h-5.4z M772.6 439.7h5.4v2.9h-5.4z M779.0 411.3h5.4v29.0h-5.4z M785.5 407.9h5.4v4.3h-5.4z M791.9 400.6h5.4v7.8h-5.4z M804.8 275.4h5.4v139.7h-5.4z M811.3 229.0h5.4v47.6h-5.4z M849.9 325.1h5.4v1.7h-5.4z M875.7 416.5h5.4v14.1h-5.4z M895.1 407.2h5.4v16.0h-5.4z M914.4 418.0h5.4v12.7h-5.4z M946.6 429.0h5.4v18.7h-5.4z M953.1 400.9h5.4v28.7h-5.4z M959.5 395.0h5.4v6.7h-5.4z M985.3 429.0h5.4v10.0h-5.4z M1017.5 445.4h5.4v14.9h-5.4z M1024.0 435.0h5.4v10.9h-5.4z M1030.4 424.5h5.4v11.2h-5.4z M1036.9 414.5h5.4v10.5h-5.4z M1049.8 406.2h5.4v11.0h-5.4z M1056.2 395.0h5.4v11.4h-5.4z M1062.7 346.8h5.4v49.2h-5.4z" fill="#2fc48a"/>
<path d="M50.6 384.2h5.4v37.3h-5.4z M63.5 405.8h5.4v17.9h-5.4z M70.0 422.2h5.4v14.9h-5.4z M82.9 413.7h5.4v24.1h-5.4z M121.5 386.2h5.4v15.6h-5.4z M128.0 400.7h5.4v16.3h-5.4z M134.4 415.9h5.4v61.4h-5.4z M140.9 475.7h5.4v43.6h-5.4z M147.3 517.1h5.4v29.5h-5.4z M153.8 545.5h5.4v13.4h-5.4z M173.1 514.8h5.4v13.5h-5.4z M186.0 509.9h5.4v26.2h-5.4z M198.9 474.2h5.4v17.2h-5.4z M218.2 479.7h5.4v7.6h-5.4z M237.6 455.8h5.4v11.9h-5.4z M244.0 467.3h5.4v21.5h-5.4z M263.4 460.8h5.4v21.7h-5.4z M276.3 464.2h5.4v23.0h-5.4z M295.6 471.5h5.4v7.3h-5.4z M327.8 459.2h5.4v5.7h-5.4z M334.3 463.7h5.4v8.0h-5.4z M347.2 466.2h5.4v3.0h-5.4z M353.6 468.7h5.4v11.6h-5.4z M366.5 470.9h5.4v2.8h-5.4z M379.4 463.7h5.4v3.0h-5.4z M392.3 460.2h5.4v2.7h-5.4z M405.2 460.2h5.4v11.3h-5.4z M418.1 468.5h5.4v4.4h-5.4z M431.0 457.1h5.4v8.8h-5.4z M437.4 465.3h5.4v6.5h-5.4z M443.8 471.0h5.4v4.4h-5.4z M456.7 474.7h5.4v12.2h-5.4z M476.1 434.9h5.4v4.0h-5.4z M482.5 438.3h5.4v4.6h-5.4z M527.6 379.0h5.4v17.4h-5.4z M534.1 395.8h5.4v3.6h-5.4z M540.5 398.5h5.4v4.2h-5.4z M553.4 386.8h5.4v20.5h-5.4z M559.9 406.9h5.4v21.4h-5.4z M605.0 308.4h5.4v5.1h-5.4z M611.4 313.0h5.4v3.2h-5.4z M617.9 315.6h5.4v4.8h-5.4z M624.3 319.8h5.4v9.6h-5.4z M637.2 318.9h5.4v6.7h-5.4z M656.6 311.4h5.4v2.7h-5.4z M663.0 313.5h5.4v17.4h-5.4z M669.5 330.9h5.4v15.2h-5.4z M682.3 321.3h5.4v4.9h-5.4z M695.2 315.2h5.4v20.6h-5.4z M708.1 326.4h5.4v9.8h-5.4z M714.6 335.8h5.4v4.0h-5.4z M721.0 339.1h5.4v22.4h-5.4z M727.5 360.8h5.4v14.1h-5.4z M733.9 374.2h5.4v16.3h-5.4z M740.4 389.8h5.4v48.3h-5.4z M746.8 437.4h5.4v10.1h-5.4z M766.1 426.3h5.4v16.7h-5.4z M798.4 400.6h5.4v14.5h-5.4z M817.7 229.0h5.4v32.6h-5.4z M824.2 260.9h5.4v20.8h-5.4z M830.6 281.0h5.4v2.3h-5.4z M837.1 282.6h5.4v7.4h-5.4z M843.5 289.3h5.4v38.0h-5.4z M856.4 325.6h5.4v65.5h-5.4z M862.8 390.4h5.4v27.9h-5.4z M869.3 417.9h5.4v12.7h-5.4z M882.2 416.5h5.4v5.8h-5.4z M888.6 421.0h5.4v1.8h-5.4z M901.5 407.2h5.4v17.1h-5.4z M908.0 423.7h5.4v7.3h-5.4z M920.9 418.0h5.4v4.5h-5.4z M927.3 421.7h5.4v10.7h-5.4z M933.7 431.9h5.4v11.1h-5.4z M940.2 442.4h5.4v5.3h-5.4z M966.0 395.0h5.4v21.0h-5.4z M972.4 414.7h5.4v7.5h-5.4z M978.9 421.5h5.4v17.5h-5.4z M991.8 429.0h5.4v6.0h-5.4z M998.2 434.5h5.4v7.8h-5.4z M1004.6 441.7h5.4v18.2h-5.4z M1011.1 459.0h5.4v1.4h-5.4z M1043.3 414.5h5.4v2.7h-5.4z M1069.1 346.8h5.4v32.4h-5.4z" fill="#f7506a"/>
</g>
</svg>
<svg class="abs" style="left:10px;top:17px" width="36" height="36" viewBox="0 0 36 36"><circle cx="17.6" cy="17.4" r="17.4" fill="#f1953e"/>
<text x="17.6" y="25.4" text-anchor="middle" font-family="Liberation Sans, sans-serif" font-weight="700" font-size="22" fill="#fff" transform="rotate(13 17.6 17.4)">₿</text></svg>
<div class="t" style="left:57.2px;top:16.1px;font-size:18px;line-height:23px;color:#f2f2f2;font-weight:700;transform:scaleX(1.0066);transform-origin:0 50%;">BTC/USDT</div>
<svg class="abs" style="left:159px;top:22px" width="10" height="8"><path d="M0.8 1.4h8L4.8 6.8z" fill="#a3a5aa"/></svg>
<div class="t" style="left:57.5px;top:38.8px;font-size:13px;line-height:17px;color:#95989d;font-weight:400;transform:scaleX(1.0046);transform-origin:0 50%;">Bitcoin</div>
<div class="abs" style="left:185px;top:21px;width:20px;height:20px;border:1px solid #2c2d30;border-radius:5px"></div>
<svg class="abs" style="left:190.3px;top:27.2px" width="11.4" height="11.4" viewBox="0 0 24 24"><path d="M12 1.8l3.1 6.6 7.2.9-5.3 5 1.4 7.1L12 17.9l-6.4 3.5 1.4-7.1-5.3-5 7.2-.9z" fill="#f7bd12" stroke="#f7bd12" stroke-width="1.5" stroke-linejoin="round"/></svg>
<div class="t" style="left:230px;top:24.5px;font-size:18px;line-height:23px;color:#2fc48a;font-weight:700;transform:scaleX(1.1900);transform-origin:0 50%;">109,386.0</div>
<div class="t" style="left:351.5px;top:15.1px;font-size:13px;line-height:17px;color:#95989d;font-weight:400;transform:scaleX(0.9636);transform-origin:0 50%;">Change %</div>
<div class="t" style="left:351.5px;top:35.6px;font-size:14px;line-height:18px;color:#2fc48a;font-weight:400;transform:scaleX(1.0616);transform-origin:0 50%;-webkit-text-stroke:.25px currentColor;">+1,152.8(+1.07%)</div>
<div class="t" style="left:496.5px;top:15.1px;font-size:13px;line-height:17px;color:#95989d;font-weight:400;transform:scaleX(0.9896);transform-origin:0 50%;">24h High</div>
<div class="t" style="left:496.5px;top:35.6px;font-size:14px;line-height:18px;color:#f2f2f2;font-weight:400;transform:scaleX(1.1020);transform-origin:0 50%;-webkit-text-stroke:.35px currentColor;">110,291.4</div>
<div class="t" style="left:590px;top:15.1px;font-size:13px;line-height:17px;color:#95989d;font-weight:400;transform:scaleX(0.9969);transform-origin:0 50%;">24h Low</div>
<div class="t" style="left:590px;top:35.6px;font-size:14px;line-height:18px;color:#f2f2f2;font-weight:400;transform:scaleX(1.0836);transform-origin:0 50%;-webkit-text-stroke:.35px currentColor;">106,424.9</div>
<div class="t" style="left:683.5px;top:15.1px;font-size:13px;line-height:17px;color:#95989d;font-weight:400;transform:scaleX(0.9678);transform-origin:0 50%;">24h Volume (BTC)</div>
<div class="t" style="left:683.5px;top:35.6px;font-size:14px;line-height:18px;color:#f2f2f2;font-weight:400;transform:scaleX(1.0704);transform-origin:0 50%;-webkit-text-stroke:.35px currentColor;">13.64K</div>
<div class="t" style="left:813px;top:15.1px;font-size:13px;line-height:17px;color:#95989d;font-weight:400;transform:scaleX(0.9697);transform-origin:0 50%;">24h Turnover (USDT)</div>
<div class="t" style="left:813px;top:35.6px;font-size:14px;line-height:18px;color:#f2f2f2;font-weight:400;transform:scaleX(1.0522);transform-origin:0 50%;-webkit-text-stroke:.35px currentColor;">1.47B</div>
<div class="t" style="left:10px;top:84.5px;font-size:15px;line-height:20px;color:#f2f2f2;font-weight:400;transform:scaleX(1.0412);transform-origin:0 50%;-webkit-text-stroke:.35px currentColor;">Charts</div>
<div class="t" style="left:73px;top:84.5px;font-size:15px;line-height:20px;color:#95989d;font-weight:400;transform:scaleX(1.0192);transform-origin:0 50%;-webkit-text-stroke:.3px currentColor;">Info</div>
<div class="t" style="left:116px;top:84.5px;font-size:15px;line-height:20px;color:#95989d;font-weight:400;transform:scaleX(1.0214);transform-origin:0 50%;-webkit-text-stroke:.3px currentColor;">Trading Data</div>
<div class="t" style="left:221.5px;top:84.5px;font-size:15px;line-height:20px;color:#95989d;font-weight:400;transform:scaleX(1.0537);transform-origin:0 50%;-webkit-text-stroke:.3px currentColor;">Moments</div>
<div class="abs" style="left:24px;top:113px;width:18px;height:2.5px;border-radius:2px;background:#fff"></div>
<div class="t" style="left:913.5px;top:84.5px;font-size:15px;line-height:20px;color:#95989d;font-weight:400;transform:scaleX(1.0351);transform-origin:0 50%;-webkit-text-stroke:.3px currentColor;">Original</div>
<div class="t" style="left:984.5px;top:84.5px;font-size:15px;line-height:20px;color:#f2f2f2;font-weight:400;transform:scaleX(1.0540);transform-origin:0 50%;-webkit-text-stroke:.35px currentColor;">TradingView</div>
<div class="t" style="left:1089px;top:84.5px;font-size:15px;line-height:20px;color:#95989d;font-weight:400;transform:scaleX(1.0243);transform-origin:0 50%;-webkit-text-stroke:.3px currentColor;">Depth</div>
<svg class="abs" style="left:1149px;top:87px" width="16" height="16" viewBox="0 0 16 16"><path d="M8.8 1.8h5.4v5.4zM1.8 8.8v5.4h5.4z" fill="#a3a5aa" stroke="#a3a5aa" stroke-width=".8" stroke-linejoin="round"/><path d="M4.6 11.4L11.4 4.6" stroke="#a3a5aa" stroke-width="1.9"/></svg>
<div class="abs" style="left:1184px;top:88px;width:14px;height:13.5px;border-radius:2px;background:#a3a5aa"></div>
<div class="abs" style="left:1210px;top:83px;width:7px;height:2px;border-radius:1px;background:#8d8f94"></div>
<div class="abs" style="left:1210px;top:87.3px;width:7px;height:2px;border-radius:1px;background:#8d8f94"></div>
<div class="abs" style="left:1210px;top:91.7px;width:7px;height:2px;border-radius:1px;background:#8d8f94"></div>
<div class="abs" style="left:1592.5px;top:83px;width:7px;height:2px;border-radius:1px;background:#8d8f94"></div>
<div class="abs" style="left:1592.5px;top:87.3px;width:7px;height:2px;border-radius:1px;background:#8d8f94"></div>
<div class="abs" style="left:1592.5px;top:91.7px;width:7px;height:2px;border-radius:1px;background:#8d8f94"></div>
<div class="abs" style="left:0;top:116px;width:1217px;height:1px;background:#1f2022"></div>
<div class="abs" style="left:1221px;top:116px;width:377px;height:1px;background:#1f2022"></div>
<div class="t" style="left:10px;top:130.0px;font-size:13px;line-height:17px;color:#95989d;font-weight:400;transform:scaleX(0.9966);transform-origin:0 50%;">1m</div>
<div class="t" style="left:50.5px;top:130.0px;font-size:13px;line-height:17px;color:#95989d;font-weight:400;transform:scaleX(1.0083);transform-origin:0 50%;">15m</div>
<div class="abs" style="left:87.5px;top:125.5px;width:35.5px;height:25px;border-radius:4px;background:#1b1c1e"></div>
<div class="t" style="left:98.5px;top:130.0px;font-size:13px;line-height:17px;color:#f2f2f2;font-weight:400;transform:scaleX(0.9681);transform-origin:0 50%;-webkit-text-stroke:.35px currentColor;">1h</div>
<div class="t" style="left:134px;top:130.0px;font-size:13px;line-height:17px;color:#95989d;font-weight:400;transform:scaleX(1.0373);transform-origin:0 50%;">4h</div>
<div class="t" style="left:171px;top:130.0px;font-size:13px;line-height:17px;color:#95989d;font-weight:400;transform:scaleX(0.9327);transform-origin:0 50%;">1D</div>
<svg class="abs" style="left:201px;top:135px" width="10" height="8"><path d="M1 1h8L5 6.6z" fill="#e8e8e8"/></svg>
<div class="abs" style="left:240px;top:129px;width:1.6px;height:18px;background:#3a3b3f"></div>
<svg class="abs" style="left:259.5px;top:130.2px" width="16" height="16" viewBox="0 0 16 16" fill="none"><g fill="#a3a5aa"><rect x="3.2" y="1.4" width="1.6" height="13.2" rx=".8"/><rect x="1.5" y="4" width="5" height="8" rx="1.5"/><rect x="11.2" y="1.4" width="1.6" height="13.2" rx=".8"/><rect x="9.5" y="4" width="5" height="8" rx="1.5"/></g></svg>
<svg class="abs" style="left:294.0px;top:130.2px" width="16" height="16" viewBox="0 0 16 16" fill="none"><g fill="#a3a5aa"><rect x="1.4" y="9.2" width="2.2" height="5.4" rx=".6"/><rect x="6.6" y="10.6" width="2.2" height="4" rx=".6"/><rect x="11.8" y="8.4" width="2.2" height="6.2" rx=".6"/></g><path d="M1.6 7.4L6 3l2.8 3.2L14 1.6" stroke="#a3a5aa" stroke-width="1.9" stroke-linecap="round" stroke-linejoin="round"/></svg>
<svg class="abs" style="left:327.5px;top:130.2px" width="16" height="16" viewBox="0 0 16 16" fill="none"><path d="M11.4 12.7A5.8 5.8 0 1 1 13.7 7" stroke="#a3a5aa" stroke-width="1.9" stroke-linecap="round"/><path d="M11 6l5 .1-2.6 3.8z" fill="#a3a5aa"/></svg>
<svg class="abs" style="left:362.5px;top:130.2px" width="16" height="16" viewBox="0 0 16 16" fill="none"><path d="M1.8 3.2h12M1.8 8h8M1.8 12.8h5.4" stroke="#a3a5aa" stroke-width="1.9" stroke-linecap="round"/><path d="M12.6 6.6l2.2 1.5-3.9 5.8-2.4.6.2-2.2z" fill="#a3a5aa"/></svg>
<svg class="abs" style="left:396.5px;top:130.2px" width="16" height="16" viewBox="0 0 16 16" fill="none"><g fill="#a3a5aa"><rect x="1.4" y="1.4" width="6" height="6" rx="1.2"/><rect x="8.6" y="1.4" width="6" height="6" rx="1.2"/><rect x="1.4" y="8.6" width="6" height="6" rx="1.2"/><rect x="8.6" y="8.6" width="6" height="6" rx="1.2"/></g></svg>
<svg class="abs" style="left:431.0px;top:130.2px" width="16" height="16" viewBox="0 0 16 16" fill="none"><circle cx="8" cy="8" r="7.3" fill="#a3a5aa"/><path d="M8 4.4v7.2M4.4 8h7.2" stroke="#0b0b0b" stroke-width="1.7" stroke-linecap="round"/></svg>
<svg class="abs" style="left:1148.9px;top:130.3px" width="16" height="16" viewBox="0 0 16 16" fill="none"><path d="M5.4 1.6h5.2l.9 2h1.7a1.5 1.5 0 0 1 1.5 1.5v8a1.5 1.5 0 0 1-1.5 1.5H2.8a1.5 1.5 0 0 1-1.5-1.5v-8A1.5 1.5 0 0 1 2.8 3.6h1.7z" fill="#a3a5aa"/><circle cx="8" cy="8.9" r="2.6" fill="#a3a5aa" stroke="#0b0b0b" stroke-width="1.3"/></svg>
<svg class="abs" style="left:1183.0px;top:130.3px" width="16" height="16" viewBox="0 0 16 16" fill="none"><path d="M9.57 14.41 L6.43 14.41 L5.96 12.57 L5.07 12.05 L3.23 12.56 L1.66 9.85 L3.03 8.52 L3.03 7.48 L1.66 6.15 L3.23 3.44 L5.07 3.95 L5.96 3.43 L6.43 1.59 L9.57 1.59 L10.04 3.43 L10.93 3.95 L12.77 3.44 L14.34 6.15 L12.97 7.48 L12.97 8.52 L14.34 9.85 L12.77 12.56 L10.93 12.05 L10.04 12.57Z" fill="#a3a5aa" stroke="#a3a5aa" stroke-width="1.2" stroke-linejoin="round"/><circle cx="8" cy="8" r="2.1" fill="#0b0b0b"/></svg>
<div class="abs" style="left:0;top:160px;width:1217px;height:1px;background:#1f2022"></div>
<svg class="abs" style="left:0;top:161px" width="53" height="500" viewBox="0 161 53 500" fill="none" stroke="#9295a0" stroke-width="1.4" stroke-linecap="round" stroke-linejoin="round"><path d="M9 186.7h9M24.5 186.7h9M21.2 174.5v9M21.2 190v9" stroke="#4a80d6" stroke-width="1.5"/><circle cx="29.7" cy="216" r="2.6"/><circle cx="11.6" cy="233.8" r="2.6"/><path d="M13.5 232L27.8 217.9"/><path d="M9 253.3H33M9 260H29.8M9 266.2H33M11.5 272.7H33"/><circle cx="32.3" cy="260" r="2.5" fill="#0b0b0b"/><circle cx="9" cy="272.7" r="2.5" fill="#0b0b0b"/><path d="M14.5 292.8L19.7 300.2L11.2 311.4ZM19.7 300.2L27.5 293.5L30.8 308Z"/><g fill="#0b0b0b"><circle cx="14.5" cy="292.8" r="2.4"/><circle cx="27.5" cy="293.5" r="2.4"/><circle cx="19.7" cy="300.2" r="2.4"/><circle cx="11.2" cy="311.4" r="2.4"/><circle cx="30.8" cy="308" r="2.4"/></g><path d="M12.9 332.6H31.9M12.9 343.3H27.5M12.9 349.9H31.9"/><path d="M15.6 340.7L29.8 334.4" stroke-dasharray="1.1 3.4" stroke-opacity=".8"/><circle cx="10.4" cy="332.6" r="2.45"/><circle cx="10.4" cy="343.3" r="2.45"/><circle cx="30" cy="343.3" r="2.45"/><circle cx="10.4" cy="349.9" r="2.45"/><path d="M7.9 388.5C10.6 383 13 377.6 17.4 377C22 376.6 25.6 380.8 23.6 385C22 388.2 15 389.2 7.9 388.5Z"/><path d="M24.3 371.8C22.9 375 24.6 378.8 27.5 377.9L35.2 371.6"/><path d="M13 413V409.4H29.6V413M21.3 409.4V427.2M18.6 427.2H24"/><circle cx="20.8" cy="456.4" r="11.5"/><circle cx="17.4" cy="453.6" r="1" fill="#9a9da5" stroke="none"/><circle cx="24.2" cy="453.6" r="1" fill="#9a9da5" stroke="none"/><path d="M16.4 459.3C18.4 462.6 23.2 462.6 25.2 459.3"/><path d="M1.5 483.5H39.5M1.5 574.5H39.5" stroke="#3a3c43" stroke-width="1"/><g transform="rotate(-40 20.7 509.5)"><rect x="6.5" y="505" width="28.4" height="9" rx="1.5"/><path d="M11 505.3v3.6M15 505.3v2.6M19 505.3v3.6M23 505.3v2.6M27 505.3v3.6M31 505.3v2.6"/></g><circle cx="18.6" cy="546.7" r="8.2"/><path d="M18.6 543v7.4M14.9 546.7h7.4M24.6 552.6L29.3 557"/><path d="M12.2 609.6V598.4a8.5 8.5 0 0 1 17 0V609.6H24.2V598.6a3.5 3.5 0 0 0 -7 0V609.6ZM12.2 605.8H17.2M24.2 605.8H29.2"/><path d="M9.4 643.6L10.4 638L21.8 627.6a2.4 2.4 0 0 1 3.4 3.6L15 641.8ZM10.4 638L15 641.8M19.5 629.8L23 633.4"/><rect x="22.4" y="642" width="9.6" height="7.4" rx="1.4" fill="#0b0b0b"/><path d="M24.6 642v-2.4a2.4 2.4 0 0 1 4.8 -.6"/><circle cx="27.2" cy="645.7" r=".7" fill="#9a9da5"/></svg>
<div class="abs" style="left:42px;top:573.5px;width:9px;height:26px;border:1px solid #2f323a;border-radius:5px;background:#0d0e10"></div>
<svg class="abs" style="left:43px;top:581px" width="9" height="12"><path d="M5.8 2.2L3.2 6L5.8 9.8" stroke="#b5b7bd" stroke-width="1.3" fill="none" stroke-linecap="round" stroke-linejoin="round"/></svg>
<div class="abs" style="left:60px;top:168px;width:642px;height:22px;background:rgba(11,11,11,.5);border-radius:2px"></div>
<div class="abs" style="left:60px;top:194px;width:167px;height:21px;background:rgba(11,11,11,.5);border-radius:2px"></div>
<div class="abs" style="left:60px;top:219.5px;width:177px;height:21.5px;background:rgba(11,11,11,.5);border-radius:2px"></div>
<div class="abs" style="left:60px;top:245.5px;width:177px;height:21.5px;background:rgba(11,11,11,.5);border-radius:2px"></div>
<div class="abs" style="left:60px;top:271px;width:286px;height:22px;background:rgba(11,11,11,.5);border-radius:2px"></div>
<div class="t" style="left:62.8px;top:167.6px;font-size:17px;line-height:22px;color:#a9acb2;font-weight:400;transform:scaleX(0.9528);transform-origin:0 50%;">BTC/USDT · 1h · GATE</div>
<div class="t" style="left:242.6px;top:170.1px;font-size:13px;line-height:17px;color:#8f9296;font-weight:400;transform:scaleX(0.9791);transform-origin:0 50%;">O</div>
<div class="t" style="left:255.5px;top:169.6px;font-size:14px;line-height:18px;color:#ee4f69;font-weight:400;transform:scaleX(1.1020);transform-origin:0 50%;">110,248.0</div>
<div class="t" style="left:330.5px;top:170.1px;font-size:13px;line-height:17px;color:#8f9296;font-weight:400;transform:scaleX(1.0545);transform-origin:0 50%;">H</div>
<div class="t" style="left:342.5px;top:169.6px;font-size:14px;line-height:18px;color:#ee4f69;font-weight:400;transform:scaleX(1.1020);transform-origin:0 50%;">110,261.8</div>
<div class="t" style="left:417.5px;top:170.1px;font-size:13px;line-height:17px;color:#8f9296;font-weight:400;transform:scaleX(0.9543);transform-origin:0 50%;">L</div>
<div class="t" style="left:426.5px;top:169.6px;font-size:14px;line-height:18px;color:#ee4f69;font-weight:400;transform:scaleX(1.0933);transform-origin:0 50%;">109,210.6</div>
<div class="t" style="left:501.5px;top:170.1px;font-size:13px;line-height:17px;color:#8f9296;font-weight:400;transform:scaleX(0.9586);transform-origin:0 50%;">C</div>
<div class="t" style="left:513px;top:169.6px;font-size:14px;line-height:18px;color:#ee4f69;font-weight:400;transform:scaleX(1.0917);transform-origin:0 50%;">109,386.0</div>
<div class="t" style="left:588.5px;top:169.6px;font-size:14px;line-height:18px;color:#ee4f69;font-weight:400;transform:scaleX(1.1108);transform-origin:0 50%;">-862.0</div>
<div class="t" style="left:638px;top:169.6px;font-size:14px;line-height:18px;color:#ee4f69;font-weight:400;transform:scaleX(1.0594);transform-origin:0 50%;">(−0.78%)</div>
<div class="t" style="left:62.8px;top:195.5px;font-size:14px;line-height:18px;color:#a9acb2;font-weight:400;transform:scaleX(1.0529);transform-origin:0 50%;">MA 5 close 0</div>
<div class="t" style="left:157.8px;top:195.5px;font-size:14px;line-height:18px;color:#f0a30a;font-weight:400;transform:scaleX(1.0857);transform-origin:0 50%;">109,119.1</div>
<div class="t" style="left:62.8px;top:221.2px;font-size:14px;line-height:18px;color:#a9acb2;font-weight:400;transform:scaleX(1.0643);transform-origin:0 50%;">MA 10 close 0</div>
<div class="t" style="left:166.8px;top:221.2px;font-size:14px;line-height:18px;color:#6a3be6;font-weight:400;transform:scaleX(1.0756);transform-origin:0 50%;">108,479.8</div>
<div class="t" style="left:62.8px;top:247.1px;font-size:14px;line-height:18px;color:#a9acb2;font-weight:400;transform:scaleX(1.0643);transform-origin:0 50%;">MA 30 close 0</div>
<div class="t" style="left:166.8px;top:247.1px;font-size:14px;line-height:18px;color:#22b5cb;font-weight:400;transform:scaleX(1.0756);transform-origin:0 50%;">108,223.6</div>
<div class="t" style="left:62.8px;top:272.8px;font-size:14px;line-height:18px;color:#a9acb2;font-weight:400;transform:scaleX(1.0277);transform-origin:0 50%;">BB 20 2</div>
<div class="t" style="left:124.9px;top:272.8px;font-size:14px;line-height:18px;color:#f0700f;font-weight:400;transform:scaleX(1.0804);transform-origin:0 50%;">108,288.4</div>
<div class="t" style="left:200.6px;top:272.8px;font-size:14px;line-height:18px;color:#2f8fe0;font-weight:400;transform:scaleX(1.0852);transform-origin:0 50%;">109,726.6</div>
<div class="t" style="left:276px;top:272.8px;font-size:14px;line-height:18px;color:#2f8fe0;font-weight:400;transform:scaleX(1.0756);transform-origin:0 50%;">106,850.2</div>
<div class="abs" style="left:63.5px;top:296px;width:28px;height:20.5px;border:1px solid #2f3137;border-radius:3px;background:#0b0b0b"></div>
<svg class="abs" style="left:71px;top:301px" width="14" height="11"><path d="M3 7.4L7 3.6L11 7.4" stroke="#e6e6e6" stroke-width="1.6" fill="none" stroke-linecap="round" stroke-linejoin="round"/></svg>
<svg class="abs" style="left:63px;top:582px" width="42" height="42" viewBox="63 582 42 42"><circle cx="83.6" cy="603" r="17.6" fill="#141823" stroke="#3d404c" stroke-width="1.4"/>
<path d="M72 597.7h9.6v11.5H77v-7.3H72z" fill="#fff"/><circle cx="85.1" cy="599.8" r="2" fill="#fff"/><path d="M89 597.7h6.9L91.6 609.2H84.4z" fill="#fff"/></svg>
<div class="abs" style="left:1139px;top:161px;width:1px;height:502px;background:#2a2c30"></div>
<div class="abs" style="left:53px;top:634px;width:1162px;height:1px;background:#2a2c30"></div>
<div class="t" style="left:1148.6px;top:163.2px;font-size:12px;line-height:16px;color:#a4a7ac;font-weight:400;transform:scaleX(1.0668);transform-origin:0 50%;">115,000.0</div>
<div class="t" style="left:1148.6px;top:237.2px;font-size:12px;line-height:16px;color:#a4a7ac;font-weight:400;transform:scaleX(1.0668);transform-origin:0 50%;">113,000.0</div>
<div class="t" style="left:1148.6px;top:274.2px;font-size:12px;line-height:16px;color:#a4a7ac;font-weight:400;transform:scaleX(1.0668);transform-origin:0 50%;">112,000.0</div>
<div class="t" style="left:1148.6px;top:311.2px;font-size:12px;line-height:16px;color:#a4a7ac;font-weight:400;transform:scaleX(1.0852);transform-origin:0 50%;">111,000.0</div>
<div class="t" style="left:1148.6px;top:348.2px;font-size:12px;line-height:16px;color:#a4a7ac;font-weight:400;transform:scaleX(1.0668);transform-origin:0 50%;">110,000.0</div>
<div class="t" style="left:1148.6px;top:385.2px;font-size:12px;line-height:16px;color:#a4a7ac;font-weight:400;transform:scaleX(1.0490);transform-origin:0 50%;">109,000.0</div>
<div class="t" style="left:1148.6px;top:422.2px;font-size:12px;line-height:16px;color:#a4a7ac;font-weight:400;transform:scaleX(1.0490);transform-origin:0 50%;">108,000.0</div>
<div class="t" style="left:1148.6px;top:459.2px;font-size:12px;line-height:16px;color:#a4a7ac;font-weight:400;transform:scaleX(1.0490);transform-origin:0 50%;">107,000.0</div>
<div class="t" style="left:1148.6px;top:496.2px;font-size:12px;line-height:16px;color:#a4a7ac;font-weight:400;transform:scaleX(1.0490);transform-origin:0 50%;">106,000.0</div>
<div class="t" style="left:1148.6px;top:533.2px;font-size:12px;line-height:16px;color:#a4a7ac;font-weight:400;transform:scaleX(1.0490);transform-origin:0 50%;">105,000.0</div>
<div class="t" style="left:1148.6px;top:570.2px;font-size:12px;line-height:16px;color:#a4a7ac;font-weight:400;transform:scaleX(1.0490);transform-origin:0 50%;">104,000.0</div>
<div class="t" style="left:1148.6px;top:607.2px;font-size:12px;line-height:16px;color:#a4a7ac;font-weight:400;transform:scaleX(1.0490);transform-origin:0 50%;">103,000.0</div>
<div class="abs" style="left:1102.2px;top:198.3px;width:107.79999999999995px;height:19.599999999999994px;background:#1d3b75;border-radius:3px"></div>
<div class="t" style="left:1107.5px;top:199.6px;font-size:12px;line-height:16px;color:#fff;font-weight:400;transform:scaleX(1.0332);transform-origin:0 50%;">High</div>
<div class="t" style="left:1148.6px;top:199.6px;font-size:12px;line-height:16px;color:#fff;font-weight:400;transform:scaleX(1.0668);transform-origin:0 50%;">114,012.0</div>
<div class="abs" style="left:1104.5px;top:585.5px;width:106.5px;height:20.0px;background:#1d3b75;border-radius:3px"></div>
<div class="abs" style="left:1139px;top:198.3px;width:1px;height:19.6px;background:rgba(255,255,255,.13)"></div>
<div class="abs" style="left:1139px;top:585.5px;width:1px;height:20px;background:rgba(255,255,255,.13)"></div>
<div class="t" style="left:1110px;top:587.2px;font-size:12px;line-height:16px;color:#fff;font-weight:400;transform:scaleX(1.0221);transform-origin:0 50%;">Low</div>
<div class="t" style="left:1148.6px;top:587.2px;font-size:12px;line-height:16px;color:#fff;font-weight:400;transform:scaleX(1.0490);transform-origin:0 50%;">103,529.3</div>
<div class="abs" style="left:1139px;top:369.3px;width:73px;height:19.0px;background:#f7506a;border-radius:0 3px 3px 0"></div>
<div class="t" style="left:1148.6px;top:370.5px;font-size:12px;line-height:16px;color:#fff;font-weight:400;transform:scaleX(1.0490);transform-origin:0 50%;">109,386.0</div>
<div class="t" style="left:194.9px;top:641.9px;font-size:12px;line-height:16px;color:#a4a7ac;font-weight:700;">18</div>
<div class="t" style="left:349.6px;top:641.9px;font-size:12px;line-height:16px;color:#a4a7ac;font-weight:700;">19</div>
<div class="t" style="left:504.3px;top:641.9px;font-size:12px;line-height:16px;color:#a4a7ac;font-weight:700;">20</div>
<div class="t" style="left:659.0px;top:641.9px;font-size:12px;line-height:16px;color:#a4a7ac;font-weight:700;">21</div>
<div class="t" style="left:813.7px;top:641.9px;font-size:12px;line-height:16px;color:#a4a7ac;font-weight:700;">22</div>
<div class="t" style="left:968.4px;top:641.9px;font-size:12px;line-height:16px;color:#a4a7ac;font-weight:700;">23</div>
<div class="t" style="left:1123.2px;top:641.9px;font-size:12px;line-height:16px;color:#a4a7ac;font-weight:700;">24</div>
<svg class="abs" style="left:1169.0px;top:640.6px" width="18" height="18" viewBox="0 0 18 18" fill="none"><path d="M9 1.3L15.7 5.1V12.9L9 16.7L2.3 12.9V5.1Z" stroke="#a4a7ac" stroke-width="1.5" stroke-linejoin="round" transform="rotate(30 9 9)"/><circle cx="9" cy="9" r="2.3" stroke="#a4a7ac" stroke-width="1.5"/></svg>
<svg class="abs" style="left:10.5px;top:685.8px" width="16" height="16" viewBox="0 0 16 16" fill="none"><rect x="1.5" y="3" width="13" height="11.6" rx="2.2" stroke="#a3a5aa" stroke-width="1.5"/><path d="M4.8 1.2v3M11.2 1.2v3M5 10.6h6" stroke="#a3a5aa" stroke-width="1.5" stroke-linecap="round"/></svg>
<div class="t" style="left:40px;top:685.6px;font-size:12px;line-height:16px;color:#a3a5aa;font-weight:400;transform:scaleX(0.9424);transform-origin:0 50%;">SRL</div>
<div class="t" style="left:68.5px;top:685.6px;font-size:12px;line-height:16px;color:#a3a5aa;font-weight:400;transform:scaleX(0.9722);transform-origin:0 50%;">MA</div>
<div class="t" style="left:93px;top:685.6px;font-size:12px;line-height:16px;color:#a3a5aa;font-weight:400;transform:scaleX(0.9229);transform-origin:0 50%;">EMA</div>
<div class="t" style="left:125.5px;top:685.6px;font-size:12px;line-height:16px;color:#a3a5aa;font-weight:400;transform:scaleX(0.9869);transform-origin:0 50%;">Volume</div>
<div class="t" style="left:173.5px;top:685.6px;font-size:12px;line-height:16px;color:#a3a5aa;font-weight:400;transform:scaleX(0.9340);transform-origin:0 50%;">MACD</div>
<div class="t" style="left:214px;top:685.6px;font-size:12px;line-height:16px;color:#a3a5aa;font-weight:400;transform:scaleX(0.9263);transform-origin:0 50%;">KDJ</div>
<div class="t" style="left:243px;top:685.6px;font-size:12px;line-height:16px;color:#a3a5aa;font-weight:400;transform:scaleX(0.9125);transform-origin:0 50%;">BOLL</div>
<div class="t" style="left:281.5px;top:685.6px;font-size:12px;line-height:16px;color:#a3a5aa;font-weight:400;transform:scaleX(0.9534);transform-origin:0 50%;">TD Sequential</div>
<div class="t" style="left:365px;top:685.6px;font-size:12px;line-height:16px;color:#a3a5aa;font-weight:400;transform:scaleX(0.9280);transform-origin:0 50%;">RSI-S-I</div>
<div class="t" style="left:410.5px;top:685.6px;font-size:12px;line-height:16px;color:#a3a5aa;font-weight:400;transform:scaleX(0.9935);transform-origin:0 50%;">Stochastic</div>
<div class="t" style="left:475px;top:685.6px;font-size:12px;line-height:16px;color:#a3a5aa;font-weight:400;transform:scaleX(0.8905);transform-origin:0 50%;">S-RSI</div>
<div class="t" style="left:511px;top:685.6px;font-size:12px;line-height:16px;color:#a3a5aa;font-weight:400;transform:scaleX(0.9140);transform-origin:0 50%;">SMI</div>
<div class="t" style="left:538px;top:685.6px;font-size:12px;line-height:16px;color:#a3a5aa;font-weight:400;transform:scaleX(0.8780);transform-origin:0 50%;">TRIX</div>
<div class="t" style="left:569px;top:685.6px;font-size:12px;line-height:16px;color:#a3a5aa;font-weight:400;transform:scaleX(0.8652);transform-origin:0 50%;">PO</div>
<div class="t" style="left:590.5px;top:685.6px;font-size:12px;line-height:16px;color:#a3a5aa;font-weight:400;transform:scaleX(0.8698);transform-origin:0 50%;">PC</div>
<div class="t" style="left:611.5px;top:685.6px;font-size:12px;line-height:16px;color:#a3a5aa;font-weight:400;transform:scaleX(0.9212);transform-origin:0 50%;">PVT</div>
<div class="t" style="left:640.5px;top:685.6px;font-size:12px;line-height:16px;color:#a3a5aa;font-weight:400;transform:scaleX(0.8366);transform-origin:0 50%;">CC</div>
<div class="t" style="left:662px;top:685.6px;font-size:12px;line-height:16px;color:#a3a5aa;font-weight:400;transform:scaleX(0.8652);transform-origin:0 50%;">KO</div>
<div class="t" style="left:683.5px;top:685.6px;font-size:12px;line-height:16px;color:#a3a5aa;font-weight:400;transform:scaleX(0.8998);transform-origin:0 50%;">NV</div>
<div class="t" style="left:706px;top:685.6px;font-size:12px;line-height:16px;color:#a3a5aa;font-weight:400;transform:scaleX(0.8698);transform-origin:0 50%;">KST</div>
<div class="t" style="left:733.7px;top:685.6px;font-size:12px;line-height:16px;color:#a3a5aa;font-weight:400;transform:scaleX(0.9592);transform-origin:0 50%;">DM</div>
<div class="t" style="left:760.7px;top:685.6px;font-size:12px;line-height:16px;color:#a3a5aa;font-weight:400;transform:scaleX(0.9964);transform-origin:0 50%;">Momentum</div>
<div class="t" style="left:829px;top:685.6px;font-size:12px;line-height:16px;color:#a3a5aa;font-weight:400;transform:scaleX(0.8882);transform-origin:0 50%;">AO</div>
<div class="t" style="left:851.2px;top:685.6px;font-size:12px;line-height:16px;color:#a3a5aa;font-weight:400;transform:scaleX(0.9298);transform-origin:0 50%;">HV</div>
<div class="t" style="left:873.8px;top:685.6px;font-size:12px;line-height:16px;color:#a3a5aa;font-weight:400;transform:scaleX(0.9153);transform-origin:0 50%;">Rate</div>
<div class="t" style="left:904.2px;top:685.6px;font-size:12px;line-height:16px;color:#a3a5aa;font-weight:400;transform:scaleX(0.8952);transform-origin:0 50%;">CCI</div>
<div class="t" style="left:930.8px;top:685.6px;font-size:12px;line-height:16px;color:#a3a5aa;font-weight:400;transform:scaleX(0.9824);transform-origin:0 50%;">Balance</div>
<div class="t" style="left:982.8px;top:685.6px;font-size:12px;line-height:16px;color:#a3a5aa;font-weight:400;transform:scaleX(1.0054);transform-origin:0 50%;">Williams</div>
<div class="t" style="left:1036.5px;top:685.6px;font-size:12px;line-height:16px;color:#a3a5aa;font-weight:400;transform:scaleX(0.9329);transform-origin:0 50%;">BBW</div>
<div class="t" style="left:1070px;top:685.6px;font-size:12px;line-height:16px;color:#a3a5aa;font-weight:400;transform:scaleX(0.8998);transform-origin:0 50%;">ADI</div>
<div class="t" style="left:1095px;top:685.6px;font-size:12px;line-height:16px;color:#45474b;font-weight:400;">C</div>
<svg class="abs" style="left:1108px;top:686px" width="10" height="14"><path d="M2.8 2.2L7.6 7L2.8 11.8" stroke="#b5b7bd" stroke-width="1.6" fill="none" stroke-linecap="round" stroke-linejoin="round"/></svg>
<svg class="abs" style="left:1206px;top:700px" width="9" height="9"><path d="M7.6 1.4v6.6H1z" fill="#3e4043"/></svg>
<svg class="abs" style="left:1587px;top:700px" width="9" height="9"><path d="M7.6 1.4v6.6H1z" fill="#3e4043"/></svg>
<div class="t" style="left:1238.5px;top:84.5px;font-size:15px;line-height:20px;color:#f2f2f2;font-weight:400;transform:scaleX(0.9974);transform-origin:0 50%;-webkit-text-stroke:.35px currentColor;">Order Book</div>
<div class="t" style="left:1333.5px;top:84.5px;font-size:15px;line-height:20px;color:#95989d;font-weight:400;transform:scaleX(1.0298);transform-origin:0 50%;-webkit-text-stroke:.3px currentColor;">Trades</div>
<div class="abs" style="left:1268.5px;top:113px;width:16.5px;height:2.5px;border-radius:2px;background:#fff"></div>
<div class="abs" style="left:1572.2px;top:87.2px;width:2.6px;height:2.6px;border-radius:2px;background:#a3a5aa"></div>
<div class="abs" style="left:1572.2px;top:93.2px;width:2.6px;height:2.6px;border-radius:2px;background:#a3a5aa"></div>
<div class="abs" style="left:1572.2px;top:99.2px;width:2.6px;height:2.6px;border-radius:2px;background:#a3a5aa"></div>
<div class="abs" style="left:1239.7px;top:140px;width:8.3px;height:8.0px;background:#f7506a;border-radius:1.5px"></div>
<div class="abs" style="left:1239.7px;top:150.2px;width:8.3px;height:7.8px;background:#2fc48a;border-radius:1.5px"></div>
<div class="abs" style="left:1250.2px;top:140px;width:8.3px;height:18.0px;background:#8d8f94;border-radius:1.5px"></div>
<div class="abs" style="left:1278.6px;top:140px;width:8.4px;height:18.0px;background:#1a5c3f;border-radius:1.5px"></div>
<div class="abs" style="left:1288.7px;top:140px;width:8.0px;height:18.0px;background:#3a3b3e;border-radius:1.5px"></div>
<div class="abs" style="left:1317.6px;top:140px;width:8.0px;height:18.0px;background:#7a2a35;border-radius:1.5px"></div>
<div class="abs" style="left:1327px;top:140px;width:8.0px;height:18.0px;background:#3a3b3e;border-radius:1.5px"></div>
<div class="t" style="left:1546.8px;top:140.6px;font-size:12px;line-height:16px;color:#f2f2f2;font-weight:400;transform:scaleX(1.0551);transform-origin:0 50%;">0.1</div>
<svg class="abs" style="left:1571px;top:145px" width="10" height="8"><path d="M1.2 1.4h7.6L5 6.4z" fill="#a3a5aa"/></svg>
<div class="t" style="left:1238.4px;top:168.1px;font-size:13px;line-height:17px;color:#95989d;font-weight:400;transform:scaleX(0.9556);transform-origin:0 50%;-webkit-text-stroke:.2px currentColor;">Price(USDT)</div>
<div class="t" style="left:1388.4px;top:168.1px;font-size:13px;line-height:17px;color:#95989d;font-weight:400;transform:scaleX(0.9765);transform-origin:0 50%;-webkit-text-stroke:.2px currentColor;">Amount(BTC)</div>
<div class="t" style="left:1497.3px;top:168.1px;font-size:13px;line-height:17px;color:#95989d;font-weight:400;transform:scaleX(0.9677);transform-origin:0 50%;-webkit-text-stroke:.2px currentColor;">Total(USDT)</div>
<svg class="abs" style="left:1571px;top:171px" width="11" height="11" fill="none" stroke="#95989d" stroke-width="1.2" stroke-linecap="round" stroke-linejoin="round"><path d="M1.5 4.2h8L7.3 2M9.5 6.8h-8L3.7 9"/></svg>
<div class="abs" style="left:1474.8px;top:210.29999999999998px;width:107.2px;height:19.4px;background:#38201f;border-radius:0px"></div>
<div class="t" style="left:1238.6px;top:214.0px;font-size:11.5px;line-height:15px;color:#f7506a;font-weight:400;transform:scaleX(1.1146);transform-origin:0 50%;-webkit-text-stroke:.3px currentColor;">109,395.0</div>
<div class="t" style="right:134px;top:214.0px;font-size:11.5px;line-height:15px;color:#f2f2f2;font-weight:400;transform:scaleX(1.1528);transform-origin:100% 50%;-webkit-text-stroke:.3px currentColor;">0.004600</div>
<div class="t" style="right:18.40000000000009px;top:214.0px;font-size:11.5px;line-height:15px;color:#f2f2f2;font-weight:400;transform:scaleX(1.1513);transform-origin:100% 50%;-webkit-text-stroke:.3px currentColor;">503.22</div>
<div class="abs" style="left:1474.8px;top:230.79999999999998px;width:107.2px;height:19.4px;background:#38201f;border-radius:0px"></div>
<div class="t" style="left:1238.6px;top:234.5px;font-size:11.5px;line-height:15px;color:#f7506a;font-weight:400;transform:scaleX(1.1146);transform-origin:0 50%;-webkit-text-stroke:.3px currentColor;">109,394.6</div>
<div class="t" style="right:134px;top:234.5px;font-size:11.5px;line-height:15px;color:#f2f2f2;font-weight:400;transform:scaleX(1.1528);transform-origin:100% 50%;-webkit-text-stroke:.3px currentColor;">0.045632</div>
<div class="t" style="right:18.40000000000009px;top:234.5px;font-size:11.5px;line-height:15px;color:#f2f2f2;font-weight:400;transform:scaleX(1.1213);transform-origin:100% 50%;-webkit-text-stroke:.3px currentColor;">4.99K</div>
<div class="abs" style="left:1474.8px;top:251.29999999999998px;width:107.2px;height:19.4px;background:#38201f;border-radius:0px"></div>
<div class="t" style="left:1238.6px;top:255.0px;font-size:11.5px;line-height:15px;color:#f7506a;font-weight:400;transform:scaleX(1.1146);transform-origin:0 50%;-webkit-text-stroke:.3px currentColor;">109,393.7</div>
<div class="t" style="right:134px;top:255.0px;font-size:11.5px;line-height:15px;color:#f2f2f2;font-weight:400;transform:scaleX(1.1528);transform-origin:100% 50%;-webkit-text-stroke:.3px currentColor;">0.096932</div>
<div class="t" style="right:18.40000000000009px;top:255.0px;font-size:11.5px;line-height:15px;color:#f2f2f2;font-weight:400;transform:scaleX(1.1028);transform-origin:100% 50%;-webkit-text-stroke:.3px currentColor;">10.60K</div>
<div class="abs" style="left:1474.8px;top:271.8px;width:107.2px;height:19.4px;background:#38201f;border-radius:0px"></div>
<div class="t" style="left:1238.6px;top:275.5px;font-size:11.5px;line-height:15px;color:#f7506a;font-weight:400;transform:scaleX(1.1146);transform-origin:0 50%;-webkit-text-stroke:.3px currentColor;">109,393.6</div>
<div class="t" style="right:134px;top:275.5px;font-size:11.5px;line-height:15px;color:#f2f2f2;font-weight:400;transform:scaleX(1.1340);transform-origin:100% 50%;-webkit-text-stroke:.3px currentColor;">5.719937</div>
<div class="t" style="right:18.40000000000009px;top:275.5px;font-size:11.5px;line-height:15px;color:#f2f2f2;font-weight:400;transform:scaleX(1.1319);transform-origin:100% 50%;-webkit-text-stroke:.3px currentColor;">625.72K</div>
<div class="abs" style="left:1474.8px;top:292.3px;width:60.2px;height:19.4px;background:#38201f;border-radius:0px"></div>
<div class="t" style="left:1238.6px;top:296.0px;font-size:11.5px;line-height:15px;color:#f7506a;font-weight:400;transform:scaleX(1.0800);transform-origin:0 50%;-webkit-text-stroke:.3px currentColor;">109,391.1</div>
<div class="t" style="right:134px;top:296.0px;font-size:11.5px;line-height:15px;color:#f2f2f2;font-weight:400;transform:scaleX(1.1528);transform-origin:100% 50%;-webkit-text-stroke:.3px currentColor;">0.045632</div>
<div class="t" style="right:18.40000000000009px;top:296.0px;font-size:11.5px;line-height:15px;color:#f2f2f2;font-weight:400;transform:scaleX(1.1213);transform-origin:100% 50%;-webkit-text-stroke:.3px currentColor;">4.99K</div>
<div class="abs" style="left:1474.8px;top:312.8px;width:60.2px;height:19.4px;background:#38201f;border-radius:0px"></div>
<div class="t" style="left:1238.6px;top:316.5px;font-size:11.5px;line-height:15px;color:#f7506a;font-weight:400;transform:scaleX(1.1146);transform-origin:0 50%;-webkit-text-stroke:.3px currentColor;">109,390.3</div>
<div class="t" style="right:134px;top:316.5px;font-size:11.5px;line-height:15px;color:#f2f2f2;font-weight:400;transform:scaleX(1.1340);transform-origin:100% 50%;-webkit-text-stroke:.3px currentColor;">0.004571</div>
<div class="t" style="right:18.40000000000009px;top:316.5px;font-size:11.5px;line-height:15px;color:#f2f2f2;font-weight:400;transform:scaleX(1.1513);transform-origin:100% 50%;-webkit-text-stroke:.3px currentColor;">500.02</div>
<div class="abs" style="left:1474.8px;top:333.3px;width:60.2px;height:19.4px;background:#38201f;border-radius:0px"></div>
<div class="t" style="left:1238.6px;top:337.0px;font-size:11.5px;line-height:15px;color:#f7506a;font-weight:400;transform:scaleX(1.1146);transform-origin:0 50%;-webkit-text-stroke:.3px currentColor;">109,389.2</div>
<div class="t" style="right:134px;top:337.0px;font-size:11.5px;line-height:15px;color:#f2f2f2;font-weight:400;transform:scaleX(1.1528);transform-origin:100% 50%;-webkit-text-stroke:.3px currentColor;">0.004570</div>
<div class="t" style="right:18.40000000000009px;top:337.0px;font-size:11.5px;line-height:15px;color:#f2f2f2;font-weight:400;transform:scaleX(1.1257);transform-origin:100% 50%;-webkit-text-stroke:.3px currentColor;">499.91</div>
<div class="abs" style="left:1474.8px;top:353.8px;width:60.2px;height:19.4px;background:#38201f;border-radius:0px"></div>
<div class="t" style="left:1238.6px;top:357.5px;font-size:11.5px;line-height:15px;color:#f7506a;font-weight:400;transform:scaleX(1.1146);transform-origin:0 50%;-webkit-text-stroke:.3px currentColor;">109,388.8</div>
<div class="t" style="right:134px;top:357.5px;font-size:11.5px;line-height:15px;color:#f2f2f2;font-weight:400;transform:scaleX(1.1340);transform-origin:100% 50%;-webkit-text-stroke:.3px currentColor;">0.032150</div>
<div class="t" style="right:18.40000000000009px;top:357.5px;font-size:11.5px;line-height:15px;color:#f2f2f2;font-weight:400;transform:scaleX(1.0913);transform-origin:100% 50%;-webkit-text-stroke:.3px currentColor;">3.51K</div>
<div class="abs" style="left:1474.8px;top:374.3px;width:60.2px;height:19.4px;background:#38201f;border-radius:0px"></div>
<div class="t" style="left:1238.6px;top:378.0px;font-size:11.5px;line-height:15px;color:#f7506a;font-weight:400;transform:scaleX(1.0973);transform-origin:0 50%;-webkit-text-stroke:.3px currentColor;">109,387.1</div>
<div class="t" style="right:134px;top:378.0px;font-size:11.5px;line-height:15px;color:#f2f2f2;font-weight:400;transform:scaleX(1.1340);transform-origin:100% 50%;-webkit-text-stroke:.3px currentColor;">7.242170</div>
<div class="t" style="right:18.40000000000009px;top:378.0px;font-size:11.5px;line-height:15px;color:#f2f2f2;font-weight:400;transform:scaleX(1.1109);transform-origin:100% 50%;-webkit-text-stroke:.3px currentColor;">792.19K</div>
<div class="abs" style="left:1474.8px;top:394.8px;width:1.4px;height:19.4px;background:#38201f;border-radius:0px"></div>
<div class="t" style="left:1238.6px;top:398.5px;font-size:11.5px;line-height:15px;color:#f7506a;font-weight:400;transform:scaleX(1.0973);transform-origin:0 50%;-webkit-text-stroke:.3px currentColor;">109,386.1</div>
<div class="t" style="right:134px;top:398.5px;font-size:11.5px;line-height:15px;color:#f2f2f2;font-weight:400;transform:scaleX(1.1528);transform-origin:100% 50%;-webkit-text-stroke:.3px currentColor;">0.225023</div>
<div class="t" style="right:18.40000000000009px;top:398.5px;font-size:11.5px;line-height:15px;color:#f2f2f2;font-weight:400;transform:scaleX(1.1028);transform-origin:100% 50%;-webkit-text-stroke:.3px currentColor;">24.61K</div>
<div class="abs" style="left:1474.8px;top:456.6px;width:47.5px;height:19.4px;background:#0d241b;border-radius:0px"></div>
<div class="t" style="left:1238.6px;top:460.3px;font-size:11.5px;line-height:15px;color:#2fc48a;font-weight:400;transform:scaleX(1.1146);transform-origin:0 50%;-webkit-text-stroke:.3px currentColor;">109,386.0</div>
<div class="t" style="right:134px;top:460.3px;font-size:11.5px;line-height:15px;color:#f2f2f2;font-weight:400;transform:scaleX(1.1528);transform-origin:100% 50%;-webkit-text-stroke:.3px currentColor;">5.934788</div>
<div class="t" style="right:18.40000000000009px;top:460.3px;font-size:11.5px;line-height:15px;color:#f2f2f2;font-weight:400;transform:scaleX(1.1109);transform-origin:100% 50%;-webkit-text-stroke:.3px currentColor;">649.18K</div>
<div class="abs" style="left:1474.8px;top:477.1px;width:47.5px;height:19.4px;background:#0d241b;border-radius:0px"></div>
<div class="t" style="left:1238.6px;top:480.8px;font-size:11.5px;line-height:15px;color:#2fc48a;font-weight:400;transform:scaleX(1.1146);transform-origin:0 50%;-webkit-text-stroke:.3px currentColor;">109,385.0</div>
<div class="t" style="right:134px;top:480.8px;font-size:11.5px;line-height:15px;color:#f2f2f2;font-weight:400;transform:scaleX(1.1340);transform-origin:100% 50%;-webkit-text-stroke:.3px currentColor;">0.021500</div>
<div class="t" style="right:18.40000000000009px;top:480.8px;font-size:11.5px;line-height:15px;color:#f2f2f2;font-weight:400;transform:scaleX(1.1213);transform-origin:100% 50%;-webkit-text-stroke:.3px currentColor;">2.35K</div>
<div class="abs" style="left:1474.8px;top:497.6px;width:47.5px;height:19.4px;background:#0d241b;border-radius:0px"></div>
<div class="t" style="left:1238.6px;top:501.3px;font-size:11.5px;line-height:15px;color:#2fc48a;font-weight:400;transform:scaleX(1.1146);transform-origin:0 50%;-webkit-text-stroke:.3px currentColor;">109,384.9</div>
<div class="t" style="right:134px;top:501.3px;font-size:11.5px;line-height:15px;color:#f2f2f2;font-weight:400;transform:scaleX(1.1340);transform-origin:100% 50%;-webkit-text-stroke:.3px currentColor;">0.008158</div>
<div class="t" style="right:18.40000000000009px;top:501.3px;font-size:11.5px;line-height:15px;color:#f2f2f2;font-weight:400;transform:scaleX(1.1513);transform-origin:100% 50%;-webkit-text-stroke:.3px currentColor;">892.36</div>
<div class="abs" style="left:1474.8px;top:518.1px;width:93.6px;height:19.4px;background:#0d241b;border-radius:0px"></div>
<div class="t" style="left:1238.6px;top:521.8px;font-size:11.5px;line-height:15px;color:#2fc48a;font-weight:400;transform:scaleX(1.1146);transform-origin:0 50%;-webkit-text-stroke:.3px currentColor;">109,384.7</div>
<div class="t" style="right:134px;top:521.8px;font-size:11.5px;line-height:15px;color:#f2f2f2;font-weight:400;transform:scaleX(1.1528);transform-origin:100% 50%;-webkit-text-stroke:.3px currentColor;">5.770332</div>
<div class="t" style="right:18.40000000000009px;top:521.8px;font-size:11.5px;line-height:15px;color:#f2f2f2;font-weight:400;transform:scaleX(1.0899);transform-origin:100% 50%;-webkit-text-stroke:.3px currentColor;">631.18K</div>
<div class="abs" style="left:1474.8px;top:538.6px;width:94.2px;height:19.4px;background:#0d241b;border-radius:0px"></div>
<div class="t" style="left:1238.6px;top:542.3px;font-size:11.5px;line-height:15px;color:#2fc48a;font-weight:400;transform:scaleX(1.1146);transform-origin:0 50%;-webkit-text-stroke:.3px currentColor;">109,384.0</div>
<div class="t" style="right:134px;top:542.3px;font-size:11.5px;line-height:15px;color:#f2f2f2;font-weight:400;transform:scaleX(1.1340);transform-origin:100% 50%;-webkit-text-stroke:.3px currentColor;">0.021500</div>
<div class="t" style="right:18.40000000000009px;top:542.3px;font-size:11.5px;line-height:15px;color:#f2f2f2;font-weight:400;transform:scaleX(1.1213);transform-origin:100% 50%;-webkit-text-stroke:.3px currentColor;">2.35K</div>
<div class="abs" style="left:1474.8px;top:559.1px;width:94.8px;height:19.4px;background:#0d241b;border-radius:0px"></div>
<div class="t" style="left:1238.6px;top:562.8px;font-size:11.5px;line-height:15px;color:#2fc48a;font-weight:400;transform:scaleX(1.1146);transform-origin:0 50%;-webkit-text-stroke:.3px currentColor;">109,383.4</div>
<div class="t" style="right:134px;top:562.8px;font-size:11.5px;line-height:15px;color:#f2f2f2;font-weight:400;transform:scaleX(1.1528);transform-origin:100% 50%;-webkit-text-stroke:.3px currentColor;">0.045632</div>
<div class="t" style="right:18.40000000000009px;top:562.8px;font-size:11.5px;line-height:15px;color:#f2f2f2;font-weight:400;transform:scaleX(1.1213);transform-origin:100% 50%;-webkit-text-stroke:.3px currentColor;">4.99K</div>
<div class="abs" style="left:1474.8px;top:579.6px;width:95.4px;height:19.4px;background:#0d241b;border-radius:0px"></div>
<div class="t" style="left:1238.6px;top:583.3px;font-size:11.5px;line-height:15px;color:#2fc48a;font-weight:400;transform:scaleX(1.1146);transform-origin:0 50%;-webkit-text-stroke:.3px currentColor;">109,383.3</div>
<div class="t" style="right:134px;top:583.3px;font-size:11.5px;line-height:15px;color:#f2f2f2;font-weight:400;transform:scaleX(1.1355);transform-origin:100% 50%;-webkit-text-stroke:.3px currentColor;">0.112556</div>
<div class="t" style="right:18.40000000000009px;top:583.3px;font-size:11.5px;line-height:15px;color:#f2f2f2;font-weight:400;transform:scaleX(1.0782);transform-origin:100% 50%;-webkit-text-stroke:.3px currentColor;">12.31K</div>
<div class="abs" style="left:1474.8px;top:600.1px;width:96.0px;height:19.4px;background:#0d241b;border-radius:0px"></div>
<div class="t" style="left:1238.6px;top:603.8px;font-size:11.5px;line-height:15px;color:#2fc48a;font-weight:400;transform:scaleX(1.1146);transform-origin:0 50%;-webkit-text-stroke:.3px currentColor;">109,383.2</div>
<div class="t" style="right:134px;top:603.8px;font-size:11.5px;line-height:15px;color:#f2f2f2;font-weight:400;transform:scaleX(1.1340);transform-origin:100% 50%;-webkit-text-stroke:.3px currentColor;">0.132600</div>
<div class="t" style="right:18.40000000000009px;top:603.8px;font-size:11.5px;line-height:15px;color:#f2f2f2;font-weight:400;transform:scaleX(1.1028);transform-origin:100% 50%;-webkit-text-stroke:.3px currentColor;">14.50K</div>
<div class="abs" style="left:1474.8px;top:620.6px;width:96.6px;height:19.4px;background:#0d241b;border-radius:0px"></div>
<div class="t" style="left:1238.6px;top:624.3px;font-size:11.5px;line-height:15px;color:#2fc48a;font-weight:400;transform:scaleX(1.1146);transform-origin:0 50%;-webkit-text-stroke:.3px currentColor;">109,383.0</div>
<div class="t" style="right:134px;top:624.3px;font-size:11.5px;line-height:15px;color:#f2f2f2;font-weight:400;transform:scaleX(1.1340);transform-origin:100% 50%;-webkit-text-stroke:.3px currentColor;">0.021500</div>
<div class="t" style="right:18.40000000000009px;top:624.3px;font-size:11.5px;line-height:15px;color:#f2f2f2;font-weight:400;transform:scaleX(1.1213);transform-origin:100% 50%;-webkit-text-stroke:.3px currentColor;">2.35K</div>
<div class="abs" style="left:1474.8px;top:641.1px;width:107.2px;height:19.4px;background:#0d241b;border-radius:0px"></div>
<div class="t" style="left:1238.6px;top:644.8px;font-size:11.5px;line-height:15px;color:#2fc48a;font-weight:400;transform:scaleX(1.0973);transform-origin:0 50%;-webkit-text-stroke:.3px currentColor;">109,381.6</div>
<div class="t" style="right:134px;top:644.8px;font-size:11.5px;line-height:15px;color:#f2f2f2;font-weight:400;transform:scaleX(1.1340);transform-origin:100% 50%;-webkit-text-stroke:.3px currentColor;">1.380944</div>
<div class="t" style="right:18.40000000000009px;top:644.8px;font-size:11.5px;line-height:15px;color:#f2f2f2;font-weight:400;transform:scaleX(1.0899);transform-origin:100% 50%;-webkit-text-stroke:.3px currentColor;">151.04K</div>
<div class="t" style="left:1239.6px;top:424.1px;font-size:19px;line-height:25px;color:#2fc48a;font-weight:700;transform:scaleX(1.1287);transform-origin:0 50%;">109,386.0</div>
<svg class="abs" style="left:1337px;top:426px" width="14" height="18" viewBox="1337 426 14 18"><path d="M1343.5 428.1L1348.4 434.9H1345.5V441.9H1341.5V434.9H1338.6Z" fill="#2fc48a" stroke="#2fc48a" stroke-width=".6" stroke-linejoin="round"/></svg>
<svg class="abs" style="left:1567px;top:428.4px" width="12" height="14"><path d="M3.2 2L9 7L3.2 12" stroke="#a3a5aa" stroke-width="1.7" fill="none" stroke-linecap="round" stroke-linejoin="round"/></svg>
<div class="t" style="left:1239.2px;top:687.8px;font-size:12px;line-height:16px;color:#2fc48a;font-weight:400;transform:scaleX(1.0435);transform-origin:0 50%;text-shadow:0 0 .3px #2fc48a;">B 53.88%</div>
<div class="t" style="left:1527px;top:687.8px;font-size:12px;line-height:16px;color:#f7506a;font-weight:400;transform:scaleX(1.0512);transform-origin:0 50%;text-shadow:0 0 .3px #f7506a;">46.12% S</div>
<svg class="abs" style="left:1296px;top:690px" width="228" height="12" viewBox="1296 690 228 12"><path d="M1301.4 692.4H1422.6L1419.8 699.6H1301.4a3.6 3.6 0 0 1 0-7.2z" fill="#2fc48a"/><path d="M1426.6 692.4H1518.2a3.6 3.6 0 0 1 0 7.2H1423.8z" fill="#f7506a"/></svg>
</div></body></html>
